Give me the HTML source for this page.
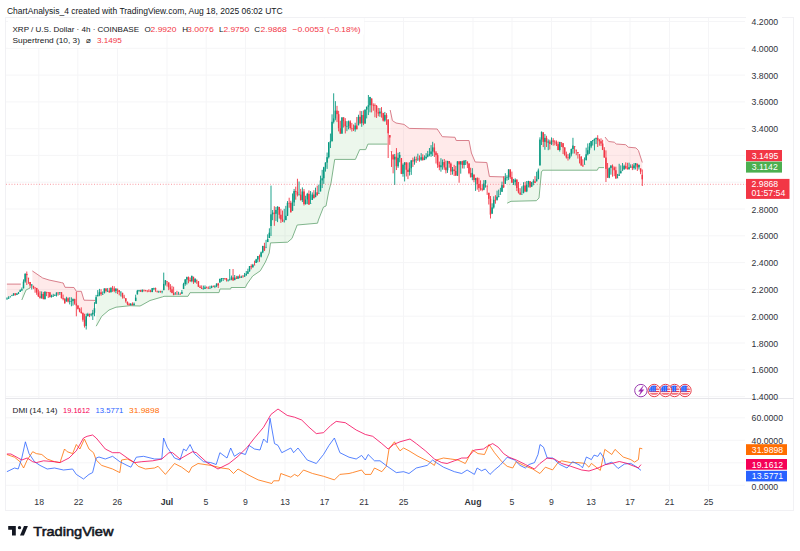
<!DOCTYPE html>
<html><head><meta charset="utf-8"><style>
html,body{margin:0;padding:0;background:#fff;width:800px;height:551px;overflow:hidden}
svg{display:block;font-family:"Liberation Sans",sans-serif}
</style></head><body>
<svg width="800" height="551" viewBox="0 0 800 551">
<rect width="800" height="551" fill="#fff"/>
<line x1="38.8" y1="17.5" x2="38.8" y2="491" stroke="#f5f5f7" stroke-width="1"/><line x1="77.8" y1="17.5" x2="77.8" y2="491" stroke="#f5f5f7" stroke-width="1"/><line x1="117.5" y1="17.5" x2="117.5" y2="491" stroke="#f5f5f7" stroke-width="1"/><line x1="167" y1="17.5" x2="167" y2="491" stroke="#f5f5f7" stroke-width="1"/><line x1="206.2" y1="17.5" x2="206.2" y2="491" stroke="#f5f5f7" stroke-width="1"/><line x1="245.5" y1="17.5" x2="245.5" y2="491" stroke="#f5f5f7" stroke-width="1"/><line x1="285" y1="17.5" x2="285" y2="491" stroke="#f5f5f7" stroke-width="1"/><line x1="324.5" y1="17.5" x2="324.5" y2="491" stroke="#f5f5f7" stroke-width="1"/><line x1="364" y1="17.5" x2="364" y2="491" stroke="#f5f5f7" stroke-width="1"/><line x1="403.5" y1="17.5" x2="403.5" y2="491" stroke="#f5f5f7" stroke-width="1"/><line x1="473" y1="17.5" x2="473" y2="491" stroke="#f5f5f7" stroke-width="1"/><line x1="512" y1="17.5" x2="512" y2="491" stroke="#f5f5f7" stroke-width="1"/><line x1="551.5" y1="17.5" x2="551.5" y2="491" stroke="#f5f5f7" stroke-width="1"/><line x1="591" y1="17.5" x2="591" y2="491" stroke="#f5f5f7" stroke-width="1"/><line x1="630" y1="17.5" x2="630" y2="491" stroke="#f5f5f7" stroke-width="1"/><line x1="669.5" y1="17.5" x2="669.5" y2="491" stroke="#f5f5f7" stroke-width="1"/><line x1="708.5" y1="17.5" x2="708.5" y2="491" stroke="#f5f5f7" stroke-width="1"/><line x1="5.5" y1="21.5" x2="745" y2="21.5" stroke="#f5f5f7" stroke-width="1"/><line x1="5.5" y1="48.3" x2="745" y2="48.3" stroke="#f5f5f7" stroke-width="1"/><line x1="5.5" y1="75.1" x2="745" y2="75.1" stroke="#f5f5f7" stroke-width="1"/><line x1="5.5" y1="101.9" x2="745" y2="101.9" stroke="#f5f5f7" stroke-width="1"/><line x1="5.5" y1="128.7" x2="745" y2="128.7" stroke="#f5f5f7" stroke-width="1"/><line x1="5.5" y1="155.4" x2="745" y2="155.4" stroke="#f5f5f7" stroke-width="1"/><line x1="5.5" y1="182.2" x2="745" y2="182.2" stroke="#f5f5f7" stroke-width="1"/><line x1="5.5" y1="209.0" x2="745" y2="209.0" stroke="#f5f5f7" stroke-width="1"/><line x1="5.5" y1="235.8" x2="745" y2="235.8" stroke="#f5f5f7" stroke-width="1"/><line x1="5.5" y1="262.6" x2="745" y2="262.6" stroke="#f5f5f7" stroke-width="1"/><line x1="5.5" y1="289.4" x2="745" y2="289.4" stroke="#f5f5f7" stroke-width="1"/><line x1="5.5" y1="316.2" x2="745" y2="316.2" stroke="#f5f5f7" stroke-width="1"/><line x1="5.5" y1="343.0" x2="745" y2="343.0" stroke="#f5f5f7" stroke-width="1"/><line x1="5.5" y1="369.8" x2="745" y2="369.8" stroke="#f5f5f7" stroke-width="1"/><line x1="5.5" y1="396.6" x2="745" y2="396.6" stroke="#f5f5f7" stroke-width="1"/><line x1="5.5" y1="417.8" x2="745" y2="417.8" stroke="#f5f5f7" stroke-width="1"/><line x1="5.5" y1="440.3" x2="745" y2="440.3" stroke="#f5f5f7" stroke-width="1"/><line x1="5.5" y1="462.8" x2="745" y2="462.8" stroke="#f5f5f7" stroke-width="1"/><line x1="5.5" y1="485.3" x2="745" y2="485.3" stroke="#f5f5f7" stroke-width="1"/>
<rect x="5.5" y="17.5" width="788" height="493" fill="none" stroke="#f1f1f4" stroke-width="1"/><line x1="5.5" y1="398.5" x2="793.5" y2="398.5" stroke="#e6e6ea" stroke-width="1"/>
<g><polygon points="6.9,284.1 8.0,284.1 9.1,284.1 10.1,284.1 11.2,284.1 12.3,284.1 13.4,284.1 14.4,284.1 15.5,284.1 16.6,284.1 17.7,284.1 18.7,284.1 19.8,284.1 20.9,284.1 20.9,291.1 19.8,291.1 18.7,293.1 17.7,294.2 16.6,294.2 15.5,294.1 14.4,294.1 13.4,294.4 12.3,295.7 11.2,295.7 10.1,296.8 9.1,298.2 8.0,298.2 6.9,298.8" fill="rgba(255,82,82,0.12)"/><polygon points="21.8,300.0 22.8,297.6 23.9,295.1 24.9,292.7 25.9,290.2 26.9,289.5 27.9,289.0 29.0,288.5 30.0,288.0 30.0,283.7 29.0,278.0 27.9,278.0 26.9,274.5 25.9,277.7 24.9,277.7 23.9,285.0 22.8,285.0 21.8,289.8" fill="rgba(76,175,80,0.105)"/><polygon points="32.3,270.9 33.3,271.6 34.3,272.3 35.3,272.9 36.3,273.6 37.3,274.3 38.3,275.0 39.3,275.7 40.3,276.4 41.3,277.0 42.3,277.7 43.3,278.2 44.3,278.5 45.3,278.8 46.3,279.1 47.3,279.5 48.3,279.8 49.3,280.1 50.3,280.3 51.3,280.5 52.3,280.7 53.3,280.9 54.3,281.1 55.3,281.3 56.3,281.6 57.3,281.8 58.3,282.0 59.3,282.2 60.3,282.4 61.3,282.6 62.3,282.8 63.3,283.2 64.3,285.6 65.3,287.3 66.3,287.3 67.3,287.4 68.3,287.4 69.3,287.4 70.3,287.4 71.3,287.4 72.3,287.5 73.3,287.5 74.3,288.0 75.3,289.6 76.3,291.3 77.3,291.3 78.3,291.3 79.3,291.3 80.3,291.3 81.3,291.3 82.3,294.6 83.3,297.9 84.3,300.2 85.3,300.2 86.3,300.2 87.3,300.3 88.3,300.3 89.3,300.3 90.3,300.3 91.3,300.3 92.3,300.3 93.3,300.4 94.3,300.4 95.3,300.4 95.3,300.5 94.3,310.5 93.3,313.6 92.3,313.6 91.3,314.8 90.3,314.6 89.3,314.6 88.3,315.1 87.3,315.1 86.3,321.1 85.3,322.9 84.3,322.9 83.3,316.5 82.3,316.5 81.3,312.3 80.3,310.2 79.3,310.2 78.3,307.2 77.3,307.2 76.3,304.5 75.3,301.3 74.3,301.3 73.3,300.1 72.3,300.1 71.3,301.2 70.3,301.4 69.3,301.4 68.3,299.9 67.3,299.9 66.3,299.9 65.3,301.2 64.3,301.2 63.3,298.7 62.3,298.7 61.3,295.2 60.3,292.5 59.3,292.5 58.3,292.6 57.3,293.9 56.3,293.9 55.3,295.6 54.3,295.6 53.3,295.8 52.3,296.4 51.3,296.4 50.3,294.6 49.3,294.6 48.3,292.2 47.3,292.0 46.3,292.0 45.3,295.3 44.3,295.3 43.3,296.5 42.3,295.9 41.3,295.9 40.3,297.1 39.3,297.1 38.3,294.4 37.3,290.2 36.3,290.2 35.3,287.6 34.3,287.6 33.3,286.7 32.3,285.0" fill="rgba(255,82,82,0.12)"/><polygon points="96.2,326.2 97.2,324.4 98.2,322.6 99.2,320.8 100.2,319.0 101.2,317.2 102.2,315.9 103.2,315.0 104.2,314.1 105.2,313.3 106.2,312.4 107.2,311.5 108.2,310.7 109.2,309.9 110.2,309.5 111.2,309.1 112.2,308.7 113.2,308.3 114.2,307.9 115.2,307.5 116.2,307.2 117.2,307.1 118.2,307.0 119.2,306.9 120.2,306.7 121.2,306.6 122.2,306.5 123.2,306.4 124.2,306.3 125.2,306.2 126.2,306.1 127.2,306.0 128.2,305.9 129.2,305.8 130.2,305.7 131.2,305.7 132.2,305.8 133.2,305.8 134.2,305.8 135.2,305.9 136.2,305.9 137.2,305.9 138.2,305.9 139.2,306.0 140.2,305.9 141.2,305.4 142.2,304.9 143.2,304.3 144.2,303.7 145.3,303.2 146.3,302.6 147.3,302.0 148.3,301.5 149.3,300.9 150.3,300.4 151.3,300.1 152.3,299.8 153.3,299.6 154.3,299.3 155.3,299.0 156.3,298.7 157.3,298.4 158.3,298.1 159.3,297.8 160.3,297.5 161.3,297.2 162.3,296.9 163.3,296.6 164.3,296.3 165.3,296.3 166.3,296.3 167.3,296.3 168.3,296.3 169.3,296.3 170.3,296.3 171.3,296.3 172.3,296.3 173.3,296.3 174.3,296.3 175.3,296.3 176.3,296.3 177.3,296.3 178.3,296.3 179.3,296.3 180.3,296.3 181.3,296.3 182.3,296.3 183.3,296.3 184.3,296.3 185.3,296.3 186.3,296.3 187.3,296.3 188.3,295.8 189.3,294.0 190.3,292.7 191.3,292.7 192.3,292.7 193.3,292.7 194.3,292.7 195.3,292.7 196.3,292.7 197.3,292.7 198.3,292.7 199.3,292.7 200.3,292.7 201.3,292.7 202.3,292.7 203.3,292.7 204.3,292.7 205.3,292.6 206.3,292.6 207.3,292.6 208.3,292.6 209.3,292.6 210.3,292.6 211.3,292.6 212.3,292.6 213.3,292.6 214.3,292.6 215.3,292.6 216.3,292.6 217.3,292.6 218.3,292.6 219.3,291.4 220.3,289.0 221.3,289.0 222.3,289.0 223.3,289.0 224.3,289.0 225.3,289.0 226.3,289.0 227.3,289.0 228.3,289.0 229.3,289.0 230.3,289.0 231.3,287.5 232.3,287.5 233.3,287.5 234.3,287.5 235.3,287.5 236.3,287.5 237.3,287.5 238.3,287.5 239.3,287.5 240.3,287.5 241.3,287.5 242.4,287.5 243.4,287.5 244.4,287.5 245.4,287.4 246.4,285.3 247.4,283.5 248.4,282.1 249.4,280.7 250.4,279.3 251.4,277.9 252.4,276.5 253.4,275.5 254.4,274.9 255.4,274.2 256.4,273.5 257.4,272.8 258.4,272.1 259.4,271.4 260.4,270.7 261.4,269.0 262.4,267.2 263.4,265.5 264.4,263.8 265.4,262.0 266.4,259.7 267.4,257.3 268.4,254.9 269.4,251.6 270.4,243.8 271.4,242.9 272.4,242.8 273.4,242.8 274.4,242.7 275.4,242.7 276.4,242.7 277.4,242.6 278.4,242.6 279.4,242.5 280.4,242.5 281.4,242.5 282.4,242.4 283.4,242.4 284.4,242.3 285.4,242.3 286.4,242.2 287.4,242.2 288.4,241.5 289.4,240.6 290.4,239.8 291.4,238.9 292.4,237.4 293.4,234.8 294.4,232.2 295.4,229.6 296.4,227.0 297.4,225.0 298.4,224.9 299.4,224.8 300.4,224.7 301.4,224.6 302.4,224.5 303.4,224.4 304.4,224.4 305.4,224.3 306.4,224.2 307.4,224.1 308.4,224.0 309.4,223.9 310.4,223.8 311.4,223.7 312.4,223.7 313.4,223.6 314.4,223.5 315.4,223.4 316.4,223.3 317.4,223.2 318.4,219.9 319.4,217.4 320.4,214.8 321.4,212.3 322.4,209.7 323.4,207.2 324.4,206.6 325.4,206.2 326.4,203.6 327.4,198.3 328.4,192.9 329.4,188.8 330.4,185.1 331.4,180.2 332.4,173.8 333.4,167.4 334.4,161.0 335.4,159.4 336.4,159.4 337.4,159.4 338.4,159.4 339.5,159.4 340.5,159.4 341.5,159.4 342.5,159.4 343.5,159.4 344.5,159.4 345.5,159.4 346.5,159.4 347.5,159.4 348.5,159.4 349.5,159.4 350.5,159.4 351.5,159.4 352.5,159.4 353.5,159.4 354.5,159.4 355.5,159.2 356.5,157.0 357.5,154.7 358.5,152.4 359.5,150.1 360.5,149.6 361.5,149.6 362.5,149.6 363.5,149.6 364.5,149.6 365.5,149.6 366.5,147.7 367.5,145.2 368.5,144.1 369.5,144.1 370.5,144.1 371.5,144.1 372.5,144.1 373.5,144.1 374.5,144.1 375.5,144.1 376.5,144.1 377.5,144.1 378.5,144.1 379.5,144.1 380.5,144.1 381.5,144.1 382.5,144.1 383.5,144.1 384.5,144.1 385.5,144.1 386.5,144.1 387.5,144.1 387.5,126.4 386.5,116.6 385.5,117.8 384.5,117.8 383.5,116.7 382.5,116.7 381.5,112.1 380.5,112.6 379.5,112.6 378.5,112.9 377.5,112.9 376.5,109.1 375.5,105.6 374.5,105.6 373.5,105.1 372.5,105.1 371.5,101.8 370.5,101.1 369.5,101.1 368.5,106.0 367.5,108.2 366.5,108.2 365.5,116.5 364.5,116.5 363.5,119.2 362.5,119.1 361.5,119.1 360.5,120.0 359.5,120.0 358.5,121.1 357.5,127.4 356.5,127.4 355.5,127.4 354.5,127.4 353.5,128.9 352.5,128.2 351.5,128.2 350.5,124.7 349.5,124.7 348.5,123.7 347.5,126.1 346.5,126.1 345.5,123.7 344.5,123.7 343.5,119.3 342.5,125.5 341.5,125.5 340.5,130.9 339.5,121.2 338.4,121.2 337.4,112.4 336.4,112.4 335.4,114.5 334.4,120.1 333.4,120.1 332.4,131.5 331.4,131.5 330.4,141.8 329.4,149.8 328.4,149.8 327.4,159.9 326.4,159.9 325.4,164.9 324.4,172.7 323.4,172.7 322.4,179.3 321.4,179.3 320.4,185.9 319.4,193.3 318.4,193.3 317.4,193.8 316.4,193.8 315.4,194.8 314.4,196.3 313.4,196.3 312.4,197.2 311.4,203.5 310.4,203.5 309.4,199.2 308.4,199.2 307.4,196.7 306.4,201.8 305.4,201.8 304.4,197.8 303.4,197.8 302.4,195.8 301.4,197.4 300.4,197.4 299.4,194.7 298.4,194.7 297.4,193.3 296.4,191.5 295.4,191.5 294.4,196.7 293.4,196.7 292.4,206.6 291.4,207.6 290.4,207.6 289.4,202.9 288.4,202.9 287.4,209.3 286.4,217.9 285.4,217.9 284.4,220.9 283.4,220.9 282.4,220.2 281.4,217.1 280.4,217.1 279.4,210.8 278.4,208.3 277.4,208.3 276.4,211.9 275.4,211.9 274.4,213.2 273.4,213.5 272.4,213.5 271.4,220.1 270.4,220.1 269.4,235.3 268.4,240.5 267.4,240.5 266.4,247.6 265.4,247.6 264.4,248.1 263.4,249.2 262.4,249.2 261.4,254.5 260.4,254.5 259.4,256.3 258.4,257.8 257.4,257.8 256.4,261.2 255.4,261.2 254.4,264.8 253.4,266.0 252.4,266.0 251.4,266.7 250.4,268.7 249.4,268.7 248.4,272.5 247.4,272.5 246.4,274.5 245.4,276.0 244.4,276.0 243.4,277.0 242.4,277.0 241.3,277.2 240.3,277.1 239.3,277.1 238.3,277.6 237.3,277.6 236.3,278.2 235.3,278.9 234.3,278.9 233.3,278.8 232.3,278.8 231.3,278.3 230.3,279.6 229.3,279.6 228.3,280.0 227.3,280.0 226.3,279.1 225.3,278.1 224.3,278.1 223.3,278.1 222.3,278.1 221.3,278.5 220.3,280.7 219.3,280.7 218.3,284.5 217.3,284.8 216.3,284.8 215.3,286.3 214.3,286.3 213.3,286.4 212.3,287.1 211.3,287.1 210.3,288.1 209.3,288.1 208.3,288.1 207.3,287.7 206.3,287.7 205.3,288.1 204.3,288.1 203.3,288.9 202.3,288.3 201.3,288.3 200.3,287.3 199.3,287.3 198.3,284.0 197.3,280.1 196.3,280.1 195.3,280.3 194.3,280.3 193.3,279.4 192.3,278.4 191.3,278.4 190.3,280.6 189.3,278.6 188.3,278.6 187.3,278.3 186.3,278.3 185.3,281.8 184.3,286.5 183.3,286.5 182.3,292.9 181.3,292.9 180.3,294.1 179.3,294.1 178.3,294.1 177.3,294.1 176.3,294.1 175.3,294.1 174.3,293.9 173.3,293.9 172.3,291.1 171.3,291.1 170.3,288.4 169.3,284.9 168.3,284.9 167.3,281.3 166.3,281.3 165.3,282.0 164.3,287.0 163.3,287.0 162.3,290.9 161.3,290.9 160.3,290.9 159.3,290.9 158.3,290.9 157.3,290.8 156.3,288.7 155.3,288.7 154.3,288.0 153.3,288.0 152.3,290.1 151.3,291.6 150.3,291.6 149.3,291.0 148.3,291.0 147.3,290.7 146.3,290.3 145.3,290.3 144.2,289.8 143.2,289.8 142.2,290.6 141.2,290.9 140.2,290.9 139.2,290.5 138.2,290.5 137.2,292.6 136.2,299.4 135.2,299.4 134.2,304.5 133.2,304.5 132.2,304.5 131.2,304.5 130.2,304.5 129.2,304.7 128.2,303.0 127.2,303.0 126.2,299.7 125.2,299.7 124.2,297.1 123.2,294.8 122.2,294.8 121.2,291.8 120.2,291.8 119.2,291.1 118.2,288.8 117.2,288.8 116.2,289.8 115.2,289.8 114.2,289.8 113.2,288.3 112.2,288.3 111.2,290.1 110.2,290.1 109.2,291.6 108.2,290.9 107.2,290.9 106.2,289.7 105.2,289.7 104.2,290.9 103.2,294.0 102.2,294.0 101.2,293.2 100.2,293.6 99.2,293.6 98.2,295.6 97.2,295.6 96.2,300.5" fill="rgba(76,175,80,0.105)"/><polygon points="390.2,110.0 391.2,114.9 392.2,119.7 393.2,121.1 394.2,121.8 395.2,122.5 396.2,123.0 397.2,123.2 398.3,123.4 399.3,123.6 400.3,123.7 401.3,123.9 402.3,124.1 403.3,124.3 404.3,124.6 405.3,125.4 406.3,126.2 407.3,127.0 408.3,127.7 409.3,128.4 410.3,128.4 411.3,128.4 412.4,128.5 413.4,128.5 414.4,128.5 415.4,128.5 416.4,128.6 417.4,128.6 418.4,128.6 419.4,128.6 420.4,128.6 421.4,128.7 422.4,128.7 423.4,128.7 424.4,128.7 425.4,128.7 426.5,128.8 427.5,128.8 428.5,128.8 429.5,128.8 430.5,128.9 431.5,128.9 432.5,128.9 433.5,128.9 434.5,128.9 435.5,129.0 436.5,129.0 437.5,129.5 438.5,131.0 439.5,132.5 440.5,134.1 441.6,135.6 442.6,136.7 443.6,136.8 444.6,136.8 445.6,136.9 446.6,136.9 447.6,137.0 448.6,137.0 449.6,137.0 450.6,137.1 451.6,137.1 452.6,137.2 453.6,137.2 454.6,137.3 455.7,139.0 456.7,140.5 457.7,140.5 458.7,140.5 459.7,140.5 460.7,140.5 461.7,140.5 462.7,140.5 463.7,140.5 464.7,140.5 465.7,140.5 466.7,140.5 467.7,140.5 468.7,140.5 469.7,144.4 470.8,149.6 471.8,153.9 472.8,156.2 473.8,158.6 474.8,161.0 475.8,162.0 476.8,162.1 477.8,162.1 478.8,162.2 479.8,162.2 480.8,162.2 481.8,162.3 482.8,162.3 483.8,162.4 484.9,162.4 485.9,162.5 486.9,162.9 487.9,168.3 488.9,173.7 489.9,176.5 490.9,176.5 491.9,176.6 492.9,176.6 493.9,176.6 494.9,176.7 495.9,176.7 496.9,176.7 497.9,176.8 499.0,176.8 500.0,176.8 501.0,176.8 502.0,176.9 503.0,176.9 504.0,176.9 505.0,177.0 506.0,177.0 506.0,180.9 505.0,180.9 504.0,186.2 503.0,186.2 502.0,188.5 501.0,194.3 500.0,194.3 499.0,196.3 497.9,196.3 496.9,198.3 495.9,199.8 494.9,199.8 493.9,203.6 492.9,210.6 491.9,210.6 490.9,206.7 489.9,206.7 488.9,195.8 487.9,186.0 486.9,186.0 485.9,181.9 484.9,181.9 483.8,186.6 482.8,189.2 481.8,189.2 480.8,188.3 479.8,188.3 478.8,186.0 477.8,181.1 476.8,181.1 475.8,179.0 474.8,179.0 473.8,177.2 472.8,175.0 471.8,175.0 470.8,175.1 469.7,168.4 468.7,168.4 467.7,162.6 466.7,162.6 465.7,160.5 464.7,162.8 463.7,162.8 462.7,163.2 461.7,163.2 460.7,162.9 459.7,162.9 458.7,162.9 457.7,168.5 456.7,168.5 455.7,173.3 454.6,170.3 453.6,170.3 452.6,170.5 451.6,167.6 450.6,167.6 449.6,162.4 448.6,162.4 447.6,165.6 446.6,168.8 445.6,168.8 444.6,164.8 443.6,164.8 442.6,163.7 441.6,166.3 440.5,166.3 439.5,166.1 438.5,166.1 437.5,160.1 436.5,153.8 435.5,153.8 434.5,150.0 433.5,149.5 432.5,149.5 431.5,152.8 430.5,152.8 429.5,154.4 428.5,155.6 427.5,155.6 426.5,157.5 425.4,157.5 424.4,159.1 423.4,158.6 422.4,158.6 421.4,158.5 420.4,158.5 419.4,159.2 418.4,159.0 417.4,159.0 416.4,159.2 415.4,160.3 414.4,160.3 413.4,160.9 412.4,160.9 411.3,164.3 410.3,170.1 409.3,170.1 408.3,170.9 407.3,170.9 406.3,166.1 405.3,163.6 404.3,163.6 403.3,169.3 402.3,169.3 401.3,166.0 400.3,156.4 399.3,156.4 398.3,162.0 397.2,162.0 396.2,161.5 395.2,158.1 394.2,158.1 393.2,157.0 392.2,151.8 391.2,151.8 390.2,136.3" fill="rgba(255,82,82,0.12)"/><polygon points="507.2,203.2 508.2,202.7 509.2,202.2 510.2,201.7 511.2,201.3 512.2,201.3 513.2,201.2 514.3,201.2 515.3,201.2 516.3,201.2 517.3,201.2 518.3,201.1 519.3,201.1 520.3,201.1 521.3,201.1 522.3,201.0 523.3,201.0 524.3,201.0 525.4,201.0 526.4,200.9 527.4,200.9 528.4,200.9 529.4,200.9 530.4,200.8 531.4,200.8 532.4,200.8 533.4,200.8 534.4,200.7 535.4,200.7 536.4,200.7 537.5,199.6 538.5,198.6 539.5,192.9 540.5,182.0 541.5,171.9 542.5,170.5 543.5,170.2 544.5,170.2 545.5,170.2 546.5,170.2 547.5,170.2 548.5,170.2 549.5,170.2 550.6,170.2 551.6,170.2 552.6,170.2 553.6,170.2 554.6,170.2 555.6,170.2 556.6,170.2 557.6,170.2 558.6,170.2 559.6,170.2 560.6,170.2 561.6,170.2 562.7,170.2 563.7,170.2 564.7,170.2 565.7,170.2 566.7,170.2 567.7,170.2 568.7,170.2 569.7,170.2 570.7,170.2 571.7,170.2 572.7,170.2 573.8,170.2 574.8,170.2 575.8,170.2 576.8,170.2 577.8,170.2 578.8,170.2 579.8,170.2 580.8,170.2 581.8,170.2 582.8,170.2 583.8,170.2 584.8,170.2 585.9,170.2 586.9,170.2 587.9,170.2 588.9,170.2 589.9,170.2 590.9,170.2 591.9,170.2 592.9,170.2 593.9,170.2 594.9,170.2 595.9,170.2 596.9,170.2 598.0,168.9 599.0,167.6 600.0,167.6 601.0,167.6 602.0,167.6 603.0,167.6 604.0,167.6 604.0,153.7 603.0,146.7 602.0,146.7 601.0,142.4 600.0,140.6 599.0,140.6 598.0,139.0 596.9,139.0 595.9,138.4 594.9,139.5 593.9,139.5 592.9,140.6 591.9,143.8 590.9,143.8 589.9,148.4 588.9,148.4 587.9,152.2 586.9,157.3 585.9,157.3 584.8,164.1 583.8,164.1 582.8,166.0 581.8,160.9 580.8,160.9 579.8,154.8 578.8,154.8 577.8,152.5 576.8,149.8 575.8,149.8 574.8,146.7 573.8,147.3 572.7,147.3 571.7,151.7 570.7,151.7 569.7,156.2 568.7,157.7 567.7,157.7 566.7,156.2 565.7,156.2 564.7,151.1 563.7,145.3 562.7,145.3 561.6,142.5 560.6,142.5 559.6,146.0 558.6,147.1 557.6,147.1 556.6,143.2 555.6,141.9 554.6,141.9 553.6,141.0 552.6,141.0 551.6,142.2 550.6,142.7 549.5,142.7 548.5,142.0 547.5,142.0 546.5,140.2 545.5,139.9 544.5,139.9 543.5,137.1 542.5,137.1 541.5,135.7 540.5,152.5 539.5,152.5 538.5,174.7 537.5,180.1 536.4,180.1 535.4,182.1 534.4,182.1 533.4,181.8 532.4,184.5 531.4,184.5 530.4,184.0 529.4,184.0 528.4,182.8 527.4,188.0 526.4,188.0 525.4,188.4 524.3,188.4 523.3,189.3 522.3,194.2 521.3,194.2 520.3,193.5 519.3,190.3 518.3,190.3 517.3,183.9 516.3,183.9 515.3,180.9 514.3,182.3 513.2,182.3 512.2,179.9 511.2,179.9 510.2,173.3 509.2,173.4 508.2,173.4 507.2,177.6" fill="rgba(76,175,80,0.105)"/><polygon points="605.0,137.0 606.0,138.3 607.0,139.5 608.0,140.8 609.0,141.6 610.0,141.7 611.0,141.8 612.1,141.9 613.1,142.0 614.1,142.2 615.1,142.9 616.1,143.9 617.1,144.1 618.1,144.1 619.1,144.2 620.1,144.3 621.1,144.4 622.1,144.4 623.1,144.5 624.2,144.6 625.2,144.7 626.2,145.2 627.2,146.1 628.2,147.1 629.2,147.3 630.2,147.4 631.2,147.5 632.2,147.6 633.2,147.7 634.2,147.7 635.2,147.8 636.3,148.3 637.3,149.3 638.3,150.3 639.3,153.1 640.3,156.2 641.3,159.4 642.3,162.5 642.3,177.1 641.3,170.1 640.3,170.1 639.3,166.1 638.3,166.1 637.3,165.5 636.3,164.3 635.2,164.3 634.2,166.7 633.2,166.7 632.2,167.3 631.2,166.9 630.2,166.9 629.2,168.2 628.2,168.7 627.2,168.7 626.2,167.0 625.2,167.0 624.2,167.8 623.1,170.6 622.1,170.6 621.1,172.3 620.1,172.3 619.1,175.1 618.1,177.9 617.1,177.9 616.1,174.4 615.1,174.4 614.1,168.8 613.1,166.6 612.1,166.6 611.0,166.9 610.0,172.9 609.0,172.9 608.0,173.3 607.0,173.3 606.0,163.2 605.0,153.7" fill="rgba(255,82,82,0.12)"/></g>
<g><polyline points="6.9,284.1 20.9,284.1" fill="none" stroke="#d9808c" stroke-width="1"/><polyline points="21.8,300.0 26.0,290.0 30.0,288.0" fill="none" stroke="#80b58c" stroke-width="1"/><polyline points="32.3,270.9 42.7,278.0 49.0,280.0 61.7,282.7 63.2,283.0 65.0,287.3 74.0,287.5 76.3,291.3 81.3,291.3 84.0,300.2 95.3,300.4" fill="none" stroke="#d9808c" stroke-width="1"/><polyline points="96.2,326.2 101.7,316.3 109.0,310.0 116.0,307.2 130.0,305.7 140.0,306.0 142.0,305.0 150.0,300.5 162.7,296.8 164.0,296.3 188.0,296.3 190.0,292.7 219.0,292.6 220.0,289.0 230.7,289.0 231.0,287.5 245.3,287.5 247.0,284.0 252.7,276.0 260.3,270.8 265.4,262.0 269.2,253.0 270.5,242.9 287.6,242.2 292.0,238.4 297.2,225.0 317.5,223.2 318.4,220.0 323.5,207.0 326.0,206.0 328.6,192.0 331.0,183.0 334.7,159.4 355.4,159.4 359.7,149.6 365.7,149.6 367.9,144.1 387.5,144.1" fill="none" stroke="#80b58c" stroke-width="1"/><polyline points="390.2,110.0 392.4,120.6 396.0,123.0 404.0,124.4 409.2,128.4 437.2,129.0 442.3,136.7 455.0,137.3 456.2,140.5 469.0,140.5 471.4,153.0 475.2,162.0 486.8,162.5 489.4,176.5 506.0,177.0" fill="none" stroke="#d9808c" stroke-width="1"/><polyline points="507.2,203.2 511.0,201.3 536.4,200.7 539.0,198.0 541.4,172.0 542.7,170.2 597.3,170.2 598.6,167.6 604.0,167.6" fill="none" stroke="#80b58c" stroke-width="1"/><polyline points="605.0,137.0 608.6,141.5 614.3,142.2 616.2,144.0 625.7,144.7 628.3,147.2 635.9,147.9 638.4,150.4 642.3,162.5" fill="none" stroke="#d9808c" stroke-width="1"/></g>
<g><rect x="6.55" y="297.35" width="0.9" height="2.32" fill="#089981"/><rect x="6.25" y="298.62" width="1.5" height="0.60" fill="#089981"/><rect x="8.20" y="296.22" width="0.9" height="2.59" fill="#089981"/><rect x="7.90" y="297.78" width="1.5" height="0.83" fill="#089981"/><rect x="9.85" y="295.98" width="0.9" height="0.89" fill="#089981"/><rect x="9.55" y="296.80" width="1.5" height="0.60" fill="#089981"/><rect x="11.50" y="294.80" width="0.9" height="1.13" fill="#089981"/><rect x="11.20" y="295.49" width="1.5" height="0.60" fill="#089981"/><rect x="13.15" y="293.35" width="0.9" height="2.29" fill="#089981"/><rect x="12.85" y="293.38" width="1.5" height="2.12" fill="#089981"/><rect x="14.80" y="293.24" width="0.9" height="2.43" fill="#F23645"/><rect x="14.50" y="293.38" width="1.5" height="1.46" fill="#F23645"/><rect x="16.45" y="293.09" width="0.9" height="1.98" fill="#089981"/><rect x="16.15" y="293.63" width="1.5" height="1.20" fill="#089981"/><rect x="18.10" y="291.95" width="0.9" height="2.15" fill="#089981"/><rect x="17.80" y="292.50" width="1.5" height="1.13" fill="#089981"/><rect x="19.75" y="289.40" width="0.9" height="2.53" fill="#089981"/><rect x="19.45" y="290.33" width="1.5" height="1.60" fill="#089981"/><rect x="21.40" y="287.53" width="0.9" height="3.53" fill="#089981"/><rect x="21.10" y="289.24" width="1.5" height="1.09" fill="#089981"/><rect x="23.05" y="279.36" width="0.9" height="8.97" fill="#089981"/><rect x="22.75" y="281.62" width="1.5" height="6.71" fill="#089981"/><rect x="24.70" y="273.24" width="0.9" height="9.53" fill="#089981"/><rect x="24.40" y="273.87" width="1.5" height="7.75" fill="#089981"/><rect x="26.35" y="271.50" width="0.9" height="13.50" fill="#F23645"/><rect x="26.05" y="273.87" width="1.5" height="1.30" fill="#F23645"/><rect x="28.00" y="277.80" width="0.9" height="6.01" fill="#F23645"/><rect x="27.70" y="277.80" width="1.5" height="0.60" fill="#F23645"/><rect x="29.65" y="281.98" width="0.9" height="6.07" fill="#F23645"/><rect x="29.35" y="281.98" width="1.5" height="3.50" fill="#F23645"/><rect x="31.30" y="284.33" width="0.9" height="5.20" fill="#089981"/><rect x="31.00" y="284.43" width="1.5" height="1.05" fill="#089981"/><rect x="32.95" y="285.82" width="0.9" height="3.34" fill="#F23645"/><rect x="32.65" y="285.82" width="1.5" height="1.75" fill="#F23645"/><rect x="34.60" y="287.16" width="0.9" height="5.55" fill="#F23645"/><rect x="34.30" y="287.57" width="1.5" height="0.60" fill="#F23645"/><rect x="36.25" y="287.94" width="0.9" height="6.86" fill="#F23645"/><rect x="35.95" y="287.94" width="1.5" height="4.61" fill="#F23645"/><rect x="37.90" y="289.49" width="0.9" height="7.48" fill="#F23645"/><rect x="37.60" y="292.55" width="1.5" height="3.79" fill="#F23645"/><rect x="39.55" y="291.20" width="0.9" height="7.50" fill="#F23645"/><rect x="39.25" y="296.34" width="1.5" height="1.48" fill="#F23645"/><rect x="41.20" y="291.40" width="0.9" height="7.34" fill="#089981"/><rect x="40.90" y="293.98" width="1.5" height="3.85" fill="#089981"/><rect x="42.85" y="291.97" width="0.9" height="7.41" fill="#F23645"/><rect x="42.55" y="293.98" width="1.5" height="5.05" fill="#F23645"/><rect x="44.50" y="291.55" width="0.9" height="8.03" fill="#089981"/><rect x="44.20" y="291.62" width="1.5" height="7.41" fill="#089981"/><rect x="46.15" y="291.89" width="0.9" height="4.28" fill="#F23645"/><rect x="45.85" y="291.89" width="1.5" height="0.60" fill="#F23645"/><rect x="47.80" y="292.09" width="0.9" height="5.81" fill="#F23645"/><rect x="47.50" y="292.09" width="1.5" height="0.60" fill="#F23645"/><rect x="49.45" y="292.25" width="0.9" height="5.30" fill="#F23645"/><rect x="49.15" y="292.28" width="1.5" height="4.67" fill="#F23645"/><rect x="51.10" y="294.69" width="0.9" height="2.93" fill="#089981"/><rect x="50.80" y="295.82" width="1.5" height="1.13" fill="#089981"/><rect x="52.75" y="293.79" width="0.9" height="3.03" fill="#089981"/><rect x="52.45" y="295.77" width="1.5" height="0.60" fill="#089981"/><rect x="54.40" y="294.40" width="0.9" height="1.57" fill="#089981"/><rect x="54.10" y="295.35" width="1.5" height="0.60" fill="#089981"/><rect x="56.05" y="292.45" width="0.9" height="4.06" fill="#089981"/><rect x="55.75" y="292.54" width="1.5" height="2.81" fill="#089981"/><rect x="57.70" y="292.39" width="0.9" height="3.16" fill="#F23645"/><rect x="57.40" y="292.54" width="1.5" height="0.60" fill="#F23645"/><rect x="59.35" y="292.08" width="0.9" height="2.80" fill="#089981"/><rect x="59.05" y="292.22" width="1.5" height="0.60" fill="#089981"/><rect x="61.00" y="292.08" width="0.9" height="6.35" fill="#F23645"/><rect x="60.70" y="292.22" width="1.5" height="6.01" fill="#F23645"/><rect x="62.65" y="294.58" width="0.9" height="5.76" fill="#F23645"/><rect x="62.35" y="298.23" width="1.5" height="0.86" fill="#F23645"/><rect x="64.30" y="298.13" width="0.9" height="5.35" fill="#F23645"/><rect x="64.00" y="299.09" width="1.5" height="4.27" fill="#F23645"/><rect x="65.95" y="296.76" width="0.9" height="4.74" fill="#089981"/><rect x="65.65" y="298.32" width="1.5" height="3.18" fill="#089981"/><rect x="67.60" y="297.41" width="0.9" height="4.98" fill="#F23645"/><rect x="67.30" y="298.32" width="1.5" height="3.20" fill="#F23645"/><rect x="69.25" y="297.26" width="0.9" height="7.15" fill="#089981"/><rect x="68.95" y="301.31" width="1.5" height="0.60" fill="#089981"/><rect x="70.90" y="297.32" width="0.9" height="8.98" fill="#089981"/><rect x="70.60" y="301.06" width="1.5" height="0.60" fill="#089981"/><rect x="72.55" y="298.50" width="0.9" height="7.14" fill="#089981"/><rect x="72.25" y="299.10" width="1.5" height="1.96" fill="#089981"/><rect x="74.20" y="298.71" width="0.9" height="6.00" fill="#F23645"/><rect x="73.90" y="299.10" width="1.5" height="4.46" fill="#F23645"/><rect x="75.85" y="291.80" width="0.9" height="24.50" fill="#F23645"/><rect x="75.55" y="303.56" width="1.5" height="1.96" fill="#F23645"/><rect x="77.50" y="305.28" width="0.9" height="4.20" fill="#F23645"/><rect x="77.20" y="305.52" width="1.5" height="3.37" fill="#F23645"/><rect x="79.15" y="307.84" width="0.9" height="4.47" fill="#F23645"/><rect x="78.85" y="308.89" width="1.5" height="2.59" fill="#F23645"/><rect x="80.80" y="307.32" width="0.9" height="6.33" fill="#F23645"/><rect x="80.50" y="311.48" width="1.5" height="1.63" fill="#F23645"/><rect x="82.45" y="312.44" width="0.9" height="9.25" fill="#F23645"/><rect x="82.15" y="313.11" width="1.5" height="6.70" fill="#F23645"/><rect x="84.10" y="313.78" width="0.9" height="13.77" fill="#F23645"/><rect x="83.80" y="319.81" width="1.5" height="6.11" fill="#F23645"/><rect x="85.75" y="313.60" width="0.9" height="15.90" fill="#089981"/><rect x="85.45" y="316.21" width="1.5" height="9.72" fill="#089981"/><rect x="87.40" y="312.81" width="0.9" height="3.48" fill="#089981"/><rect x="87.10" y="314.06" width="1.5" height="2.14" fill="#089981"/><rect x="89.05" y="313.54" width="0.9" height="3.55" fill="#F23645"/><rect x="88.75" y="314.06" width="1.5" height="1.14" fill="#F23645"/><rect x="90.70" y="313.20" width="0.9" height="3.10" fill="#089981"/><rect x="90.40" y="314.45" width="1.5" height="0.75" fill="#089981"/><rect x="92.35" y="309.88" width="0.9" height="10.10" fill="#089981"/><rect x="92.05" y="312.75" width="1.5" height="1.71" fill="#089981"/><rect x="94.00" y="302.15" width="0.9" height="14.08" fill="#089981"/><rect x="93.70" y="308.20" width="1.5" height="4.55" fill="#089981"/><rect x="95.65" y="294.91" width="0.9" height="8.82" fill="#089981"/><rect x="95.35" y="297.17" width="1.5" height="6.56" fill="#089981"/><rect x="97.30" y="290.11" width="0.9" height="6.18" fill="#089981"/><rect x="97.00" y="294.97" width="1.5" height="1.32" fill="#089981"/><rect x="98.95" y="288.88" width="0.9" height="7.28" fill="#089981"/><rect x="98.65" y="292.23" width="1.5" height="2.73" fill="#089981"/><rect x="100.60" y="289.14" width="0.9" height="6.67" fill="#F23645"/><rect x="100.30" y="292.23" width="1.5" height="1.87" fill="#F23645"/><rect x="102.25" y="291.47" width="0.9" height="3.24" fill="#089981"/><rect x="101.95" y="293.95" width="1.5" height="0.60" fill="#089981"/><rect x="103.90" y="288.32" width="0.9" height="4.95" fill="#089981"/><rect x="103.60" y="288.49" width="1.5" height="4.78" fill="#089981"/><rect x="105.55" y="288.25" width="0.9" height="4.04" fill="#F23645"/><rect x="105.25" y="288.49" width="1.5" height="2.47" fill="#F23645"/><rect x="107.20" y="288.07" width="0.9" height="3.94" fill="#089981"/><rect x="106.90" y="290.78" width="1.5" height="0.60" fill="#089981"/><rect x="108.85" y="287.86" width="0.9" height="4.65" fill="#F23645"/><rect x="108.55" y="290.78" width="1.5" height="1.66" fill="#F23645"/><rect x="110.50" y="287.26" width="0.9" height="5.04" fill="#089981"/><rect x="110.20" y="287.90" width="1.5" height="4.41" fill="#089981"/><rect x="112.15" y="285.91" width="0.9" height="5.94" fill="#F23645"/><rect x="111.85" y="287.90" width="1.5" height="0.72" fill="#F23645"/><rect x="113.80" y="286.29" width="0.9" height="5.89" fill="#F23645"/><rect x="113.50" y="288.62" width="1.5" height="2.37" fill="#F23645"/><rect x="115.45" y="288.22" width="0.9" height="4.97" fill="#089981"/><rect x="115.15" y="288.66" width="1.5" height="2.33" fill="#089981"/><rect x="117.10" y="288.77" width="0.9" height="5.24" fill="#F23645"/><rect x="116.80" y="288.77" width="1.5" height="0.60" fill="#F23645"/><rect x="118.75" y="290.14" width="0.9" height="5.18" fill="#F23645"/><rect x="118.45" y="290.14" width="1.5" height="1.89" fill="#F23645"/><rect x="120.40" y="291.54" width="0.9" height="4.93" fill="#089981"/><rect x="120.10" y="291.62" width="1.5" height="0.60" fill="#089981"/><rect x="122.05" y="292.80" width="0.9" height="5.76" fill="#F23645"/><rect x="121.75" y="292.80" width="1.5" height="4.09" fill="#F23645"/><rect x="123.70" y="294.78" width="0.9" height="3.78" fill="#F23645"/><rect x="123.40" y="296.89" width="1.5" height="0.60" fill="#F23645"/><rect x="125.35" y="298.20" width="0.9" height="4.50" fill="#F23645"/><rect x="125.05" y="298.20" width="1.5" height="3.06" fill="#F23645"/><rect x="127.00" y="301.70" width="0.9" height="3.49" fill="#F23645"/><rect x="126.70" y="301.70" width="1.5" height="2.54" fill="#F23645"/><rect x="128.65" y="302.79" width="0.9" height="2.48" fill="#F23645"/><rect x="128.35" y="304.24" width="1.5" height="0.97" fill="#F23645"/><rect x="130.30" y="303.01" width="0.9" height="2.22" fill="#089981"/><rect x="130.00" y="303.85" width="1.5" height="1.36" fill="#089981"/><rect x="131.95" y="302.35" width="0.9" height="2.94" fill="#F23645"/><rect x="131.65" y="303.85" width="1.5" height="1.36" fill="#F23645"/><rect x="133.60" y="302.45" width="0.9" height="2.84" fill="#089981"/><rect x="133.30" y="303.74" width="1.5" height="1.47" fill="#089981"/><rect x="135.25" y="294.64" width="0.9" height="6.42" fill="#089981"/><rect x="134.95" y="297.66" width="1.5" height="3.40" fill="#089981"/><rect x="136.90" y="289.89" width="0.9" height="4.50" fill="#089981"/><rect x="136.60" y="290.73" width="1.5" height="3.67" fill="#089981"/><rect x="138.55" y="289.81" width="0.9" height="1.95" fill="#089981"/><rect x="138.25" y="290.25" width="1.5" height="0.60" fill="#089981"/><rect x="140.20" y="289.74" width="0.9" height="2.15" fill="#F23645"/><rect x="139.90" y="290.25" width="1.5" height="1.40" fill="#F23645"/><rect x="141.85" y="289.61" width="0.9" height="2.59" fill="#089981"/><rect x="141.55" y="289.65" width="1.5" height="2.00" fill="#089981"/><rect x="143.50" y="289.80" width="0.9" height="1.86" fill="#F23645"/><rect x="143.20" y="289.80" width="1.5" height="0.60" fill="#F23645"/><rect x="145.15" y="289.94" width="0.9" height="1.55" fill="#F23645"/><rect x="144.85" y="289.94" width="1.5" height="0.69" fill="#F23645"/><rect x="146.80" y="290.31" width="0.9" height="1.95" fill="#F23645"/><rect x="146.50" y="290.63" width="1.5" height="0.60" fill="#F23645"/><rect x="148.45" y="289.24" width="0.9" height="2.82" fill="#F23645"/><rect x="148.15" y="290.68" width="1.5" height="0.60" fill="#F23645"/><rect x="150.10" y="289.71" width="0.9" height="2.51" fill="#F23645"/><rect x="149.80" y="291.24" width="1.5" height="0.79" fill="#F23645"/><rect x="151.75" y="288.05" width="0.9" height="4.10" fill="#089981"/><rect x="151.45" y="288.11" width="1.5" height="3.93" fill="#089981"/><rect x="153.40" y="287.73" width="0.9" height="2.42" fill="#089981"/><rect x="153.10" y="287.99" width="1.5" height="0.60" fill="#089981"/><rect x="155.05" y="287.58" width="0.9" height="4.19" fill="#F23645"/><rect x="154.75" y="287.99" width="1.5" height="1.46" fill="#F23645"/><rect x="156.70" y="290.80" width="0.9" height="1.76" fill="#F23645"/><rect x="156.40" y="290.80" width="1.5" height="0.60" fill="#F23645"/><rect x="158.35" y="290.82" width="0.9" height="2.18" fill="#089981"/><rect x="158.05" y="290.87" width="1.5" height="0.60" fill="#089981"/><rect x="160.00" y="290.82" width="0.9" height="1.91" fill="#F23645"/><rect x="159.70" y="290.87" width="1.5" height="0.60" fill="#F23645"/><rect x="161.65" y="290.81" width="0.9" height="2.49" fill="#089981"/><rect x="161.35" y="290.87" width="1.5" height="0.60" fill="#089981"/><rect x="163.30" y="272.60" width="0.9" height="17.56" fill="#089981"/><rect x="163.00" y="283.87" width="1.5" height="6.29" fill="#089981"/><rect x="164.95" y="280.02" width="0.9" height="5.49" fill="#089981"/><rect x="164.65" y="280.20" width="1.5" height="3.67" fill="#089981"/><rect x="166.60" y="281.21" width="0.9" height="5.34" fill="#F23645"/><rect x="166.30" y="281.21" width="1.5" height="0.60" fill="#F23645"/><rect x="168.25" y="282.41" width="0.9" height="7.79" fill="#F23645"/><rect x="167.95" y="282.41" width="1.5" height="4.97" fill="#F23645"/><rect x="169.90" y="284.12" width="0.9" height="8.10" fill="#F23645"/><rect x="169.60" y="287.39" width="1.5" height="1.96" fill="#F23645"/><rect x="171.55" y="285.79" width="0.9" height="7.49" fill="#F23645"/><rect x="171.25" y="289.35" width="1.5" height="3.53" fill="#F23645"/><rect x="173.20" y="286.73" width="0.9" height="8.51" fill="#F23645"/><rect x="172.90" y="292.87" width="1.5" height="2.15" fill="#F23645"/><rect x="174.85" y="292.00" width="0.9" height="2.40" fill="#089981"/><rect x="174.55" y="293.83" width="1.5" height="0.60" fill="#089981"/><rect x="176.50" y="290.82" width="0.9" height="3.57" fill="#F23645"/><rect x="176.20" y="293.83" width="1.5" height="0.60" fill="#F23645"/><rect x="178.15" y="291.78" width="0.9" height="2.58" fill="#089981"/><rect x="177.85" y="293.96" width="1.5" height="0.60" fill="#089981"/><rect x="179.80" y="292.55" width="0.9" height="1.81" fill="#F23645"/><rect x="179.50" y="293.96" width="1.5" height="0.60" fill="#F23645"/><rect x="181.45" y="289.99" width="0.9" height="3.74" fill="#089981"/><rect x="181.15" y="292.13" width="1.5" height="1.60" fill="#089981"/><rect x="183.10" y="282.77" width="0.9" height="6.17" fill="#089981"/><rect x="182.80" y="284.05" width="1.5" height="4.89" fill="#089981"/><rect x="184.75" y="279.05" width="0.9" height="6.72" fill="#089981"/><rect x="184.45" y="279.48" width="1.5" height="4.57" fill="#089981"/><rect x="186.40" y="276.66" width="0.9" height="7.88" fill="#089981"/><rect x="186.10" y="277.15" width="1.5" height="2.33" fill="#089981"/><rect x="188.05" y="276.49" width="0.9" height="6.78" fill="#F23645"/><rect x="187.75" y="277.15" width="1.5" height="2.95" fill="#F23645"/><rect x="189.70" y="277.50" width="0.9" height="4.49" fill="#F23645"/><rect x="189.40" y="280.10" width="1.5" height="0.92" fill="#F23645"/><rect x="191.35" y="275.69" width="0.9" height="6.57" fill="#089981"/><rect x="191.05" y="275.86" width="1.5" height="5.16" fill="#089981"/><rect x="193.00" y="276.77" width="0.9" height="7.11" fill="#F23645"/><rect x="192.70" y="276.77" width="1.5" height="5.20" fill="#F23645"/><rect x="194.65" y="278.49" width="0.9" height="4.43" fill="#089981"/><rect x="194.35" y="278.62" width="1.5" height="3.36" fill="#089981"/><rect x="196.30" y="279.77" width="0.9" height="4.02" fill="#F23645"/><rect x="196.00" y="279.77" width="1.5" height="0.60" fill="#F23645"/><rect x="197.95" y="281.19" width="0.9" height="5.68" fill="#F23645"/><rect x="197.65" y="281.19" width="1.5" height="5.56" fill="#F23645"/><rect x="199.60" y="285.31" width="0.9" height="2.63" fill="#F23645"/><rect x="199.30" y="286.75" width="1.5" height="1.06" fill="#F23645"/><rect x="201.25" y="285.35" width="0.9" height="3.60" fill="#F23645"/><rect x="200.95" y="287.81" width="1.5" height="1.06" fill="#F23645"/><rect x="202.90" y="285.58" width="0.9" height="3.41" fill="#089981"/><rect x="202.60" y="288.86" width="1.5" height="0.60" fill="#089981"/><rect x="204.55" y="285.42" width="0.9" height="3.51" fill="#089981"/><rect x="204.25" y="287.41" width="1.5" height="1.45" fill="#089981"/><rect x="206.20" y="286.45" width="0.9" height="1.93" fill="#F23645"/><rect x="205.90" y="287.41" width="1.5" height="0.60" fill="#F23645"/><rect x="207.85" y="286.41" width="0.9" height="2.27" fill="#F23645"/><rect x="207.55" y="287.94" width="1.5" height="0.60" fill="#F23645"/><rect x="209.50" y="285.76" width="0.9" height="2.92" fill="#089981"/><rect x="209.20" y="287.89" width="1.5" height="0.60" fill="#089981"/><rect x="211.15" y="285.51" width="0.9" height="2.70" fill="#089981"/><rect x="210.85" y="286.28" width="1.5" height="1.61" fill="#089981"/><rect x="212.80" y="285.37" width="0.9" height="1.80" fill="#F23645"/><rect x="212.50" y="286.28" width="1.5" height="0.60" fill="#F23645"/><rect x="214.45" y="285.14" width="0.9" height="2.99" fill="#089981"/><rect x="214.15" y="286.11" width="1.5" height="0.60" fill="#089981"/><rect x="216.10" y="283.44" width="0.9" height="3.73" fill="#089981"/><rect x="215.80" y="283.57" width="1.5" height="2.53" fill="#089981"/><rect x="217.75" y="282.85" width="0.9" height="5.16" fill="#F23645"/><rect x="217.45" y="283.57" width="1.5" height="1.83" fill="#F23645"/><rect x="219.40" y="278.60" width="0.9" height="3.92" fill="#089981"/><rect x="219.10" y="278.95" width="1.5" height="3.58" fill="#089981"/><rect x="221.05" y="278.04" width="0.9" height="3.60" fill="#089981"/><rect x="220.75" y="278.10" width="1.5" height="0.85" fill="#089981"/><rect x="222.70" y="278.02" width="0.9" height="3.01" fill="#089981"/><rect x="222.40" y="278.10" width="1.5" height="0.60" fill="#089981"/><rect x="224.35" y="278.07" width="0.9" height="1.54" fill="#F23645"/><rect x="224.05" y="278.10" width="1.5" height="0.60" fill="#F23645"/><rect x="226.00" y="278.12" width="0.9" height="3.38" fill="#F23645"/><rect x="225.70" y="278.18" width="1.5" height="1.85" fill="#F23645"/><rect x="227.65" y="279.23" width="0.9" height="2.34" fill="#089981"/><rect x="227.35" y="279.88" width="1.5" height="0.60" fill="#089981"/><rect x="229.30" y="269.00" width="0.9" height="11.65" fill="#089981"/><rect x="229.00" y="279.24" width="1.5" height="0.64" fill="#089981"/><rect x="230.95" y="275.55" width="0.9" height="4.66" fill="#089981"/><rect x="230.65" y="277.45" width="1.5" height="1.80" fill="#089981"/><rect x="232.60" y="269.00" width="0.9" height="12.00" fill="#F23645"/><rect x="232.30" y="277.45" width="1.5" height="2.75" fill="#F23645"/><rect x="234.25" y="275.00" width="0.9" height="5.12" fill="#089981"/><rect x="233.95" y="277.64" width="1.5" height="2.49" fill="#089981"/><rect x="235.90" y="275.86" width="0.9" height="3.12" fill="#F23645"/><rect x="235.60" y="277.64" width="1.5" height="1.22" fill="#F23645"/><rect x="237.55" y="275.71" width="0.9" height="3.06" fill="#089981"/><rect x="237.25" y="276.43" width="1.5" height="2.33" fill="#089981"/><rect x="239.20" y="274.46" width="0.9" height="3.82" fill="#F23645"/><rect x="238.90" y="276.43" width="1.5" height="1.31" fill="#F23645"/><rect x="240.85" y="275.62" width="0.9" height="2.25" fill="#089981"/><rect x="240.55" y="276.69" width="1.5" height="1.04" fill="#089981"/><rect x="242.50" y="274.98" width="0.9" height="2.32" fill="#F23645"/><rect x="242.20" y="276.69" width="1.5" height="0.60" fill="#F23645"/><rect x="244.15" y="272.95" width="0.9" height="3.76" fill="#089981"/><rect x="243.85" y="275.23" width="1.5" height="1.47" fill="#089981"/><rect x="245.80" y="271.03" width="0.9" height="4.78" fill="#089981"/><rect x="245.50" y="273.70" width="1.5" height="1.53" fill="#089981"/><rect x="247.45" y="268.66" width="0.9" height="5.40" fill="#089981"/><rect x="247.15" y="271.33" width="1.5" height="2.37" fill="#089981"/><rect x="249.10" y="266.06" width="0.9" height="5.64" fill="#089981"/><rect x="248.80" y="266.15" width="1.5" height="5.18" fill="#089981"/><rect x="250.75" y="264.29" width="0.9" height="5.01" fill="#F23645"/><rect x="250.45" y="266.15" width="1.5" height="1.03" fill="#F23645"/><rect x="252.40" y="263.86" width="0.9" height="3.86" fill="#089981"/><rect x="252.10" y="264.77" width="1.5" height="2.41" fill="#089981"/><rect x="254.05" y="260.63" width="0.9" height="4.58" fill="#F23645"/><rect x="253.75" y="264.77" width="1.5" height="0.60" fill="#F23645"/><rect x="255.70" y="258.79" width="0.9" height="4.17" fill="#089981"/><rect x="255.40" y="259.43" width="1.5" height="3.54" fill="#089981"/><rect x="257.35" y="255.93" width="0.9" height="6.32" fill="#089981"/><rect x="257.05" y="256.07" width="1.5" height="3.36" fill="#089981"/><rect x="259.00" y="254.54" width="0.9" height="7.30" fill="#F23645"/><rect x="258.70" y="256.07" width="1.5" height="0.60" fill="#F23645"/><rect x="260.65" y="251.54" width="0.9" height="5.85" fill="#089981"/><rect x="260.35" y="252.36" width="1.5" height="4.21" fill="#089981"/><rect x="262.30" y="245.86" width="0.9" height="7.35" fill="#089981"/><rect x="262.00" y="245.94" width="1.5" height="6.42" fill="#089981"/><rect x="263.95" y="242.75" width="0.9" height="8.27" fill="#F23645"/><rect x="263.65" y="245.94" width="1.5" height="4.31" fill="#F23645"/><rect x="265.60" y="239.85" width="0.9" height="7.90" fill="#089981"/><rect x="265.30" y="247.49" width="1.5" height="0.60" fill="#089981"/><rect x="267.25" y="234.35" width="0.9" height="7.69" fill="#089981"/><rect x="266.95" y="239.00" width="1.5" height="3.04" fill="#089981"/><rect x="268.90" y="228.30" width="0.9" height="9.63" fill="#089981"/><rect x="268.60" y="232.67" width="1.5" height="5.26" fill="#089981"/><rect x="270.55" y="185.60" width="0.9" height="50.40" fill="#089981"/><rect x="270.25" y="214.29" width="1.5" height="11.71" fill="#089981"/><rect x="272.20" y="210.04" width="0.9" height="10.15" fill="#089981"/><rect x="271.90" y="212.63" width="1.5" height="1.67" fill="#089981"/><rect x="273.85" y="206.22" width="0.9" height="19.60" fill="#F23645"/><rect x="273.55" y="212.63" width="1.5" height="1.18" fill="#F23645"/><rect x="275.50" y="206.90" width="0.9" height="14.15" fill="#089981"/><rect x="275.20" y="209.95" width="1.5" height="3.85" fill="#089981"/><rect x="277.15" y="206.25" width="0.9" height="15.88" fill="#089981"/><rect x="276.85" y="206.68" width="1.5" height="3.27" fill="#089981"/><rect x="278.80" y="206.93" width="0.9" height="11.65" fill="#F23645"/><rect x="278.50" y="206.93" width="1.5" height="7.79" fill="#F23645"/><rect x="280.45" y="208.80" width="0.9" height="14.14" fill="#F23645"/><rect x="280.15" y="214.72" width="1.5" height="4.69" fill="#F23645"/><rect x="282.10" y="210.52" width="0.9" height="11.53" fill="#F23645"/><rect x="281.80" y="219.41" width="1.5" height="1.55" fill="#F23645"/><rect x="283.75" y="208.78" width="0.9" height="13.78" fill="#089981"/><rect x="283.45" y="220.75" width="1.5" height="0.60" fill="#089981"/><rect x="285.40" y="205.86" width="0.9" height="14.25" fill="#089981"/><rect x="285.10" y="215.77" width="1.5" height="4.34" fill="#089981"/><rect x="287.05" y="201.08" width="0.9" height="14.94" fill="#089981"/><rect x="286.75" y="202.87" width="1.5" height="12.90" fill="#089981"/><rect x="288.70" y="197.71" width="0.9" height="10.04" fill="#F23645"/><rect x="288.40" y="202.87" width="1.5" height="0.60" fill="#F23645"/><rect x="290.35" y="200.78" width="0.9" height="11.77" fill="#F23645"/><rect x="290.05" y="202.90" width="1.5" height="9.37" fill="#F23645"/><rect x="292.00" y="193.48" width="0.9" height="17.26" fill="#089981"/><rect x="291.70" y="202.40" width="1.5" height="8.34" fill="#089981"/><rect x="293.65" y="188.94" width="0.9" height="17.06" fill="#089981"/><rect x="293.35" y="191.05" width="1.5" height="11.35" fill="#089981"/><rect x="295.30" y="186.66" width="0.9" height="13.05" fill="#F23645"/><rect x="295.00" y="191.05" width="1.5" height="0.94" fill="#F23645"/><rect x="296.95" y="178.75" width="0.9" height="17.66" fill="#F23645"/><rect x="296.65" y="191.99" width="1.5" height="2.69" fill="#F23645"/><rect x="298.60" y="181.49" width="0.9" height="13.65" fill="#089981"/><rect x="298.30" y="194.66" width="1.5" height="0.60" fill="#089981"/><rect x="300.25" y="188.90" width="0.9" height="11.64" fill="#F23645"/><rect x="299.95" y="194.66" width="1.5" height="5.46" fill="#F23645"/><rect x="301.90" y="187.41" width="0.9" height="14.63" fill="#089981"/><rect x="301.60" y="191.47" width="1.5" height="8.66" fill="#089981"/><rect x="303.55" y="189.06" width="0.9" height="16.40" fill="#F23645"/><rect x="303.25" y="191.47" width="1.5" height="12.59" fill="#F23645"/><rect x="305.20" y="195.71" width="0.9" height="8.91" fill="#089981"/><rect x="304.90" y="199.55" width="1.5" height="4.51" fill="#089981"/><rect x="306.85" y="192.84" width="0.9" height="11.33" fill="#089981"/><rect x="306.55" y="193.87" width="1.5" height="5.68" fill="#089981"/><rect x="308.50" y="190.38" width="0.9" height="14.39" fill="#F23645"/><rect x="308.20" y="193.87" width="1.5" height="10.76" fill="#F23645"/><rect x="310.15" y="191.05" width="0.9" height="12.59" fill="#089981"/><rect x="309.85" y="203.30" width="1.5" height="0.60" fill="#089981"/><rect x="311.80" y="192.39" width="0.9" height="7.57" fill="#089981"/><rect x="311.50" y="194.53" width="1.5" height="5.43" fill="#089981"/><rect x="313.45" y="190.19" width="0.9" height="8.21" fill="#F23645"/><rect x="313.15" y="194.53" width="1.5" height="3.63" fill="#F23645"/><rect x="315.10" y="187.66" width="0.9" height="9.49" fill="#089981"/><rect x="314.80" y="192.38" width="1.5" height="4.77" fill="#089981"/><rect x="316.75" y="185.61" width="0.9" height="9.99" fill="#F23645"/><rect x="316.45" y="192.38" width="1.5" height="2.83" fill="#F23645"/><rect x="318.40" y="184.62" width="0.9" height="8.89" fill="#089981"/><rect x="318.10" y="193.07" width="1.5" height="0.60" fill="#089981"/><rect x="320.05" y="175.67" width="0.9" height="15.73" fill="#089981"/><rect x="319.75" y="180.41" width="1.5" height="10.99" fill="#089981"/><rect x="321.70" y="169.82" width="0.9" height="18.22" fill="#089981"/><rect x="321.40" y="178.25" width="1.5" height="2.17" fill="#089981"/><rect x="323.35" y="166.78" width="0.9" height="17.08" fill="#089981"/><rect x="323.05" y="167.25" width="1.5" height="11.00" fill="#089981"/><rect x="325.00" y="162.23" width="0.9" height="9.40" fill="#089981"/><rect x="324.70" y="162.63" width="1.5" height="4.62" fill="#089981"/><rect x="326.65" y="152.53" width="0.9" height="16.37" fill="#089981"/><rect x="326.35" y="157.18" width="1.5" height="5.45" fill="#089981"/><rect x="328.30" y="142.11" width="0.9" height="16.35" fill="#089981"/><rect x="328.00" y="142.36" width="1.5" height="14.82" fill="#089981"/><rect x="329.95" y="133.56" width="0.9" height="14.47" fill="#089981"/><rect x="329.65" y="141.21" width="1.5" height="1.15" fill="#089981"/><rect x="331.60" y="114.32" width="0.9" height="27.13" fill="#089981"/><rect x="331.30" y="121.77" width="1.5" height="19.44" fill="#089981"/><rect x="333.25" y="93.30" width="0.9" height="30.19" fill="#089981"/><rect x="332.95" y="118.43" width="1.5" height="3.34" fill="#089981"/><rect x="334.90" y="101.15" width="0.9" height="19.14" fill="#089981"/><rect x="334.60" y="110.62" width="1.5" height="7.81" fill="#089981"/><rect x="336.55" y="105.82" width="0.9" height="16.26" fill="#F23645"/><rect x="336.25" y="110.62" width="1.5" height="3.56" fill="#F23645"/><rect x="338.20" y="110.83" width="0.9" height="20.55" fill="#F23645"/><rect x="337.90" y="114.19" width="1.5" height="14.03" fill="#F23645"/><rect x="339.85" y="120.72" width="0.9" height="13.08" fill="#F23645"/><rect x="339.55" y="128.22" width="1.5" height="5.40" fill="#F23645"/><rect x="341.50" y="117.24" width="0.9" height="16.52" fill="#089981"/><rect x="341.20" y="117.42" width="1.5" height="16.19" fill="#089981"/><rect x="343.15" y="117.22" width="0.9" height="10.33" fill="#F23645"/><rect x="342.85" y="117.42" width="1.5" height="3.73" fill="#F23645"/><rect x="344.80" y="118.13" width="0.9" height="15.34" fill="#F23645"/><rect x="344.50" y="121.15" width="1.5" height="5.16" fill="#F23645"/><rect x="346.45" y="121.10" width="0.9" height="10.04" fill="#089981"/><rect x="346.15" y="125.93" width="1.5" height="0.60" fill="#089981"/><rect x="348.10" y="120.53" width="0.9" height="8.82" fill="#089981"/><rect x="347.80" y="121.38" width="1.5" height="4.55" fill="#089981"/><rect x="349.75" y="120.24" width="0.9" height="9.37" fill="#F23645"/><rect x="349.45" y="121.38" width="1.5" height="6.59" fill="#F23645"/><rect x="351.40" y="122.85" width="0.9" height="8.67" fill="#F23645"/><rect x="351.10" y="127.97" width="1.5" height="0.60" fill="#F23645"/><rect x="353.05" y="124.49" width="0.9" height="6.52" fill="#F23645"/><rect x="352.75" y="128.44" width="1.5" height="0.97" fill="#F23645"/><rect x="354.70" y="122.70" width="0.9" height="8.95" fill="#089981"/><rect x="354.40" y="125.47" width="1.5" height="3.94" fill="#089981"/><rect x="356.35" y="116.99" width="0.9" height="12.34" fill="#F23645"/><rect x="356.05" y="125.47" width="1.5" height="3.76" fill="#F23645"/><rect x="358.00" y="114.73" width="0.9" height="10.54" fill="#089981"/><rect x="357.70" y="116.85" width="1.5" height="8.42" fill="#089981"/><rect x="359.65" y="110.85" width="0.9" height="13.13" fill="#F23645"/><rect x="359.35" y="116.85" width="1.5" height="6.30" fill="#F23645"/><rect x="361.30" y="111.11" width="0.9" height="15.72" fill="#089981"/><rect x="361.00" y="115.05" width="1.5" height="8.10" fill="#089981"/><rect x="362.95" y="110.41" width="0.9" height="14.77" fill="#F23645"/><rect x="362.65" y="115.05" width="1.5" height="8.39" fill="#F23645"/><rect x="364.60" y="109.49" width="0.9" height="14.33" fill="#089981"/><rect x="364.30" y="109.63" width="1.5" height="13.81" fill="#089981"/><rect x="366.25" y="106.51" width="0.9" height="11.91" fill="#089981"/><rect x="365.95" y="106.84" width="1.5" height="2.78" fill="#089981"/><rect x="367.90" y="95.00" width="0.9" height="20.04" fill="#089981"/><rect x="367.60" y="105.25" width="1.5" height="1.59" fill="#089981"/><rect x="369.55" y="96.85" width="0.9" height="15.50" fill="#089981"/><rect x="369.25" y="96.98" width="1.5" height="8.28" fill="#089981"/><rect x="371.20" y="98.47" width="0.9" height="13.91" fill="#F23645"/><rect x="370.90" y="98.47" width="1.5" height="6.56" fill="#F23645"/><rect x="372.85" y="103.35" width="0.9" height="7.35" fill="#F23645"/><rect x="372.55" y="105.04" width="1.5" height="0.60" fill="#F23645"/><rect x="374.50" y="103.46" width="0.9" height="13.81" fill="#F23645"/><rect x="374.20" y="105.25" width="1.5" height="0.64" fill="#F23645"/><rect x="376.15" y="104.99" width="0.9" height="12.96" fill="#F23645"/><rect x="375.85" y="105.88" width="1.5" height="6.34" fill="#F23645"/><rect x="377.80" y="107.90" width="0.9" height="8.36" fill="#F23645"/><rect x="377.50" y="112.22" width="1.5" height="1.27" fill="#F23645"/><rect x="379.45" y="108.09" width="0.9" height="8.69" fill="#089981"/><rect x="379.15" y="111.61" width="1.5" height="1.88" fill="#089981"/><rect x="381.10" y="107.09" width="0.9" height="10.56" fill="#F23645"/><rect x="380.80" y="111.61" width="1.5" height="0.98" fill="#F23645"/><rect x="382.75" y="112.92" width="0.9" height="8.53" fill="#F23645"/><rect x="382.45" y="112.92" width="1.5" height="7.63" fill="#F23645"/><rect x="384.40" y="111.92" width="0.9" height="9.75" fill="#089981"/><rect x="384.10" y="115.09" width="1.5" height="5.46" fill="#089981"/><rect x="386.05" y="113.13" width="0.9" height="11.73" fill="#F23645"/><rect x="385.75" y="115.09" width="1.5" height="3.00" fill="#F23645"/><rect x="387.70" y="119.43" width="0.9" height="38.57" fill="#F23645"/><rect x="387.40" y="119.43" width="1.5" height="13.85" fill="#F23645"/><rect x="389.35" y="135.06" width="0.9" height="9.80" fill="#F23645"/><rect x="389.05" y="135.06" width="1.5" height="2.45" fill="#F23645"/><rect x="391.00" y="151.46" width="0.9" height="15.49" fill="#F23645"/><rect x="390.70" y="151.46" width="1.5" height="0.61" fill="#F23645"/><rect x="392.65" y="154.52" width="0.9" height="18.82" fill="#F23645"/><rect x="392.35" y="154.52" width="1.5" height="4.97" fill="#F23645"/><rect x="394.30" y="153.98" width="0.9" height="31.02" fill="#089981"/><rect x="394.00" y="156.78" width="1.5" height="2.71" fill="#089981"/><rect x="395.95" y="148.07" width="0.9" height="21.98" fill="#F23645"/><rect x="395.65" y="156.78" width="1.5" height="9.46" fill="#F23645"/><rect x="397.60" y="152.75" width="0.9" height="15.12" fill="#089981"/><rect x="397.30" y="157.81" width="1.5" height="8.44" fill="#089981"/><rect x="399.25" y="152.00" width="0.9" height="10.29" fill="#089981"/><rect x="398.95" y="154.90" width="1.5" height="2.90" fill="#089981"/><rect x="400.90" y="158.06" width="0.9" height="16.03" fill="#F23645"/><rect x="400.60" y="158.06" width="1.5" height="15.78" fill="#F23645"/><rect x="402.55" y="163.43" width="0.9" height="13.27" fill="#089981"/><rect x="402.25" y="164.85" width="1.5" height="9.00" fill="#089981"/><rect x="404.20" y="162.21" width="0.9" height="19.24" fill="#089981"/><rect x="403.90" y="162.44" width="1.5" height="2.40" fill="#089981"/><rect x="405.85" y="162.30" width="0.9" height="14.16" fill="#F23645"/><rect x="405.55" y="162.44" width="1.5" height="7.32" fill="#F23645"/><rect x="407.50" y="162.48" width="0.9" height="16.65" fill="#F23645"/><rect x="407.20" y="169.76" width="1.5" height="2.21" fill="#F23645"/><rect x="409.15" y="162.26" width="0.9" height="13.29" fill="#089981"/><rect x="408.85" y="168.28" width="1.5" height="3.69" fill="#089981"/><rect x="410.80" y="160.23" width="0.9" height="14.67" fill="#089981"/><rect x="410.50" y="160.39" width="1.5" height="7.88" fill="#089981"/><rect x="412.45" y="157.63" width="0.9" height="9.30" fill="#F23645"/><rect x="412.15" y="160.39" width="1.5" height="1.08" fill="#F23645"/><rect x="414.10" y="156.54" width="0.9" height="8.15" fill="#089981"/><rect x="413.80" y="159.09" width="1.5" height="2.39" fill="#089981"/><rect x="415.75" y="156.54" width="0.9" height="6.28" fill="#F23645"/><rect x="415.45" y="159.09" width="1.5" height="0.60" fill="#F23645"/><rect x="417.40" y="153.67" width="0.9" height="7.31" fill="#089981"/><rect x="417.10" y="158.68" width="1.5" height="0.66" fill="#089981"/><rect x="419.05" y="155.39" width="0.9" height="6.30" fill="#F23645"/><rect x="418.75" y="158.68" width="1.5" height="1.03" fill="#F23645"/><rect x="420.70" y="153.09" width="0.9" height="7.65" fill="#089981"/><rect x="420.40" y="157.24" width="1.5" height="2.47" fill="#089981"/><rect x="422.35" y="154.30" width="0.9" height="6.42" fill="#F23645"/><rect x="422.05" y="157.24" width="1.5" height="2.79" fill="#F23645"/><rect x="424.00" y="155.34" width="0.9" height="4.75" fill="#089981"/><rect x="423.70" y="158.25" width="1.5" height="1.79" fill="#089981"/><rect x="425.65" y="153.19" width="0.9" height="6.16" fill="#089981"/><rect x="425.35" y="156.70" width="1.5" height="1.55" fill="#089981"/><rect x="427.30" y="150.90" width="0.9" height="6.46" fill="#089981"/><rect x="427.00" y="154.60" width="1.5" height="2.10" fill="#089981"/><rect x="428.95" y="148.01" width="0.9" height="8.28" fill="#089981"/><rect x="428.65" y="154.21" width="1.5" height="0.60" fill="#089981"/><rect x="430.60" y="145.10" width="0.9" height="11.74" fill="#089981"/><rect x="430.30" y="151.46" width="1.5" height="2.74" fill="#089981"/><rect x="432.25" y="141.79" width="0.9" height="14.24" fill="#089981"/><rect x="431.95" y="147.46" width="1.5" height="4.00" fill="#089981"/><rect x="433.90" y="143.39" width="0.9" height="13.58" fill="#F23645"/><rect x="433.60" y="147.46" width="1.5" height="5.03" fill="#F23645"/><rect x="435.55" y="151.06" width="0.9" height="12.44" fill="#F23645"/><rect x="435.25" y="152.49" width="1.5" height="2.69" fill="#F23645"/><rect x="437.20" y="153.23" width="0.9" height="14.63" fill="#F23645"/><rect x="436.90" y="155.18" width="1.5" height="9.77" fill="#F23645"/><rect x="438.85" y="161.62" width="0.9" height="8.62" fill="#F23645"/><rect x="438.55" y="164.95" width="1.5" height="2.27" fill="#F23645"/><rect x="440.50" y="158.19" width="0.9" height="13.48" fill="#089981"/><rect x="440.20" y="165.31" width="1.5" height="1.91" fill="#089981"/><rect x="442.15" y="159.51" width="0.9" height="10.18" fill="#089981"/><rect x="441.85" y="162.07" width="1.5" height="3.24" fill="#089981"/><rect x="443.80" y="159.00" width="0.9" height="10.80" fill="#F23645"/><rect x="443.50" y="162.07" width="1.5" height="5.38" fill="#F23645"/><rect x="445.45" y="160.61" width="0.9" height="12.81" fill="#F23645"/><rect x="445.15" y="167.45" width="1.5" height="2.79" fill="#F23645"/><rect x="447.10" y="160.78" width="0.9" height="12.11" fill="#089981"/><rect x="446.80" y="161.05" width="1.5" height="9.19" fill="#089981"/><rect x="448.75" y="161.01" width="0.9" height="6.73" fill="#F23645"/><rect x="448.45" y="161.05" width="1.5" height="2.61" fill="#F23645"/><rect x="450.40" y="162.47" width="0.9" height="12.59" fill="#F23645"/><rect x="450.10" y="163.66" width="1.5" height="7.79" fill="#F23645"/><rect x="452.05" y="167.01" width="0.9" height="7.62" fill="#089981"/><rect x="451.75" y="169.57" width="1.5" height="1.88" fill="#089981"/><rect x="453.70" y="164.85" width="0.9" height="11.09" fill="#F23645"/><rect x="453.40" y="169.57" width="1.5" height="1.38" fill="#F23645"/><rect x="455.35" y="165.94" width="0.9" height="9.81" fill="#F23645"/><rect x="455.05" y="170.96" width="1.5" height="4.67" fill="#F23645"/><rect x="457.00" y="161.24" width="0.9" height="14.64" fill="#089981"/><rect x="456.70" y="161.38" width="1.5" height="14.25" fill="#089981"/><rect x="458.65" y="161.20" width="0.9" height="21.50" fill="#F23645"/><rect x="458.35" y="161.38" width="1.5" height="3.10" fill="#F23645"/><rect x="460.30" y="161.09" width="0.9" height="12.57" fill="#089981"/><rect x="460.00" y="161.38" width="1.5" height="3.10" fill="#089981"/><rect x="461.95" y="160.82" width="0.9" height="7.62" fill="#F23645"/><rect x="461.65" y="161.38" width="1.5" height="3.62" fill="#F23645"/><rect x="463.60" y="160.33" width="0.9" height="8.25" fill="#089981"/><rect x="463.30" y="160.59" width="1.5" height="4.41" fill="#089981"/><rect x="465.25" y="160.28" width="0.9" height="4.73" fill="#089981"/><rect x="464.95" y="160.49" width="1.5" height="0.60" fill="#089981"/><rect x="466.90" y="161.55" width="0.9" height="6.55" fill="#F23645"/><rect x="466.60" y="161.55" width="1.5" height="2.09" fill="#F23645"/><rect x="468.55" y="163.07" width="0.9" height="11.17" fill="#F23645"/><rect x="468.25" y="163.64" width="1.5" height="9.47" fill="#F23645"/><rect x="470.20" y="167.71" width="0.9" height="9.79" fill="#F23645"/><rect x="469.90" y="173.11" width="1.5" height="4.06" fill="#F23645"/><rect x="471.85" y="168.17" width="0.9" height="12.00" fill="#089981"/><rect x="471.55" y="172.85" width="1.5" height="4.31" fill="#089981"/><rect x="473.50" y="174.55" width="0.9" height="7.78" fill="#F23645"/><rect x="473.20" y="174.55" width="1.5" height="5.39" fill="#F23645"/><rect x="475.15" y="177.83" width="0.9" height="13.07" fill="#089981"/><rect x="474.85" y="178.14" width="1.5" height="1.79" fill="#089981"/><rect x="476.80" y="177.29" width="0.9" height="12.37" fill="#F23645"/><rect x="476.50" y="178.14" width="1.5" height="5.83" fill="#F23645"/><rect x="478.45" y="177.82" width="0.9" height="14.14" fill="#F23645"/><rect x="478.15" y="183.97" width="1.5" height="4.05" fill="#F23645"/><rect x="480.10" y="180.34" width="0.9" height="10.27" fill="#F23645"/><rect x="479.80" y="188.02" width="1.5" height="0.62" fill="#F23645"/><rect x="481.75" y="184.32" width="0.9" height="6.94" fill="#F23645"/><rect x="481.45" y="188.64" width="1.5" height="1.14" fill="#F23645"/><rect x="483.40" y="180.11" width="0.9" height="10.12" fill="#089981"/><rect x="483.10" y="183.50" width="1.5" height="6.28" fill="#089981"/><rect x="485.05" y="180.14" width="0.9" height="7.46" fill="#089981"/><rect x="484.75" y="180.26" width="1.5" height="3.23" fill="#089981"/><rect x="486.70" y="185.65" width="0.9" height="9.21" fill="#F23645"/><rect x="486.40" y="185.65" width="1.5" height="0.73" fill="#F23645"/><rect x="488.35" y="192.80" width="0.9" height="11.71" fill="#F23645"/><rect x="488.05" y="192.80" width="1.5" height="6.00" fill="#F23645"/><rect x="490.00" y="196.00" width="0.9" height="22.50" fill="#F23645"/><rect x="489.70" y="198.80" width="1.5" height="15.81" fill="#F23645"/><rect x="491.65" y="203.29" width="0.9" height="10.43" fill="#089981"/><rect x="491.35" y="207.46" width="1.5" height="6.26" fill="#089981"/><rect x="493.30" y="196.30" width="0.9" height="12.32" fill="#089981"/><rect x="493.00" y="199.82" width="1.5" height="7.64" fill="#089981"/><rect x="494.95" y="195.22" width="0.9" height="8.46" fill="#F23645"/><rect x="494.65" y="199.82" width="1.5" height="0.60" fill="#F23645"/><rect x="496.60" y="190.66" width="0.9" height="9.93" fill="#089981"/><rect x="496.30" y="196.67" width="1.5" height="3.20" fill="#089981"/><rect x="498.25" y="189.60" width="0.9" height="7.78" fill="#089981"/><rect x="497.95" y="195.96" width="1.5" height="0.72" fill="#089981"/><rect x="499.90" y="187.78" width="0.9" height="6.66" fill="#089981"/><rect x="499.60" y="194.14" width="1.5" height="0.60" fill="#089981"/><rect x="501.55" y="181.62" width="0.9" height="10.18" fill="#089981"/><rect x="501.25" y="185.16" width="1.5" height="6.64" fill="#089981"/><rect x="503.20" y="176.42" width="0.9" height="11.63" fill="#F23645"/><rect x="502.90" y="185.16" width="1.5" height="2.17" fill="#F23645"/><rect x="504.85" y="173.21" width="0.9" height="10.61" fill="#089981"/><rect x="504.55" y="177.94" width="1.5" height="5.88" fill="#089981"/><rect x="506.50" y="175.28" width="0.9" height="5.34" fill="#089981"/><rect x="506.20" y="177.32" width="1.5" height="0.62" fill="#089981"/><rect x="508.15" y="169.26" width="0.9" height="10.69" fill="#089981"/><rect x="507.85" y="169.43" width="1.5" height="7.89" fill="#089981"/><rect x="509.80" y="169.42" width="0.9" height="9.45" fill="#F23645"/><rect x="509.50" y="169.43" width="1.5" height="7.73" fill="#F23645"/><rect x="511.45" y="171.59" width="0.9" height="11.30" fill="#F23645"/><rect x="511.15" y="177.16" width="1.5" height="5.42" fill="#F23645"/><rect x="513.10" y="178.90" width="0.9" height="6.07" fill="#089981"/><rect x="512.80" y="182.06" width="1.5" height="0.60" fill="#089981"/><rect x="514.75" y="178.35" width="0.9" height="7.10" fill="#089981"/><rect x="514.45" y="179.67" width="1.5" height="2.39" fill="#089981"/><rect x="516.40" y="179.25" width="0.9" height="11.80" fill="#F23645"/><rect x="516.10" y="179.67" width="1.5" height="8.38" fill="#F23645"/><rect x="518.05" y="181.95" width="0.9" height="11.53" fill="#F23645"/><rect x="517.75" y="188.05" width="1.5" height="4.49" fill="#F23645"/><rect x="519.70" y="188.24" width="0.9" height="6.66" fill="#F23645"/><rect x="519.40" y="192.53" width="1.5" height="1.99" fill="#F23645"/><rect x="521.35" y="186.36" width="0.9" height="7.98" fill="#089981"/><rect x="521.05" y="194.04" width="1.5" height="0.60" fill="#089981"/><rect x="523.00" y="182.22" width="0.9" height="10.96" fill="#089981"/><rect x="522.70" y="185.50" width="1.5" height="7.68" fill="#089981"/><rect x="524.65" y="181.73" width="0.9" height="10.34" fill="#F23645"/><rect x="524.35" y="185.50" width="1.5" height="5.90" fill="#F23645"/><rect x="526.30" y="180.98" width="0.9" height="11.17" fill="#089981"/><rect x="526.00" y="184.60" width="1.5" height="6.80" fill="#089981"/><rect x="527.95" y="180.75" width="0.9" height="6.66" fill="#089981"/><rect x="527.65" y="180.98" width="1.5" height="3.62" fill="#089981"/><rect x="529.60" y="181.22" width="0.9" height="6.76" fill="#F23645"/><rect x="529.30" y="181.22" width="1.5" height="5.59" fill="#F23645"/><rect x="531.25" y="181.83" width="0.9" height="4.88" fill="#089981"/><rect x="530.95" y="182.30" width="1.5" height="4.40" fill="#089981"/><rect x="532.90" y="179.27" width="0.9" height="6.01" fill="#089981"/><rect x="532.60" y="181.25" width="1.5" height="1.05" fill="#089981"/><rect x="534.55" y="176.15" width="0.9" height="6.96" fill="#F23645"/><rect x="534.25" y="181.25" width="1.5" height="1.64" fill="#F23645"/><rect x="536.20" y="171.74" width="0.9" height="9.61" fill="#089981"/><rect x="535.90" y="178.95" width="1.5" height="2.40" fill="#089981"/><rect x="537.85" y="168.58" width="0.9" height="10.78" fill="#089981"/><rect x="537.55" y="170.46" width="1.5" height="8.49" fill="#089981"/><rect x="539.50" y="137.32" width="0.9" height="28.11" fill="#089981"/><rect x="539.20" y="139.54" width="1.5" height="25.90" fill="#089981"/><rect x="541.15" y="131.40" width="0.9" height="13.60" fill="#089981"/><rect x="540.85" y="131.90" width="1.5" height="7.63" fill="#089981"/><rect x="542.80" y="132.34" width="0.9" height="14.74" fill="#F23645"/><rect x="542.50" y="132.34" width="1.5" height="9.52" fill="#F23645"/><rect x="544.45" y="134.04" width="0.9" height="15.74" fill="#089981"/><rect x="544.15" y="137.87" width="1.5" height="3.99" fill="#089981"/><rect x="546.10" y="135.77" width="0.9" height="11.22" fill="#F23645"/><rect x="545.80" y="137.87" width="1.5" height="4.64" fill="#F23645"/><rect x="547.75" y="139.35" width="0.9" height="10.84" fill="#089981"/><rect x="547.45" y="141.54" width="1.5" height="0.97" fill="#089981"/><rect x="549.40" y="139.75" width="0.9" height="9.79" fill="#F23645"/><rect x="549.10" y="141.54" width="1.5" height="2.42" fill="#F23645"/><rect x="551.05" y="137.41" width="0.9" height="7.63" fill="#089981"/><rect x="550.75" y="140.51" width="1.5" height="3.45" fill="#089981"/><rect x="552.70" y="138.15" width="0.9" height="7.49" fill="#F23645"/><rect x="552.40" y="140.51" width="1.5" height="1.05" fill="#F23645"/><rect x="554.35" y="140.07" width="0.9" height="5.32" fill="#F23645"/><rect x="554.05" y="141.56" width="1.5" height="0.75" fill="#F23645"/><rect x="556.00" y="140.47" width="0.9" height="5.54" fill="#F23645"/><rect x="555.70" y="142.30" width="1.5" height="1.84" fill="#F23645"/><rect x="557.65" y="141.58" width="0.9" height="8.64" fill="#F23645"/><rect x="557.35" y="144.14" width="1.5" height="5.86" fill="#F23645"/><rect x="559.30" y="141.85" width="0.9" height="9.73" fill="#089981"/><rect x="559.00" y="141.96" width="1.5" height="8.04" fill="#089981"/><rect x="560.95" y="142.37" width="0.9" height="4.62" fill="#F23645"/><rect x="560.65" y="142.37" width="1.5" height="0.60" fill="#F23645"/><rect x="562.60" y="143.12" width="0.9" height="10.96" fill="#F23645"/><rect x="562.30" y="143.12" width="1.5" height="4.30" fill="#F23645"/><rect x="564.25" y="147.28" width="0.9" height="8.48" fill="#F23645"/><rect x="563.95" y="147.42" width="1.5" height="7.43" fill="#F23645"/><rect x="565.90" y="151.59" width="0.9" height="7.00" fill="#F23645"/><rect x="565.60" y="154.85" width="1.5" height="2.63" fill="#F23645"/><rect x="567.55" y="153.88" width="0.9" height="6.68" fill="#F23645"/><rect x="567.25" y="157.48" width="1.5" height="0.60" fill="#F23645"/><rect x="569.20" y="152.81" width="0.9" height="6.47" fill="#089981"/><rect x="568.90" y="154.47" width="1.5" height="3.40" fill="#089981"/><rect x="570.85" y="148.58" width="0.9" height="7.79" fill="#089981"/><rect x="570.55" y="149.01" width="1.5" height="5.46" fill="#089981"/><rect x="572.50" y="137.80" width="0.9" height="15.79" fill="#089981"/><rect x="572.20" y="145.55" width="1.5" height="3.46" fill="#089981"/><rect x="574.15" y="146.22" width="0.9" height="7.35" fill="#F23645"/><rect x="573.85" y="146.22" width="1.5" height="0.91" fill="#F23645"/><rect x="575.80" y="149.75" width="0.9" height="5.49" fill="#F23645"/><rect x="575.50" y="149.75" width="1.5" height="0.60" fill="#F23645"/><rect x="577.45" y="152.06" width="0.9" height="6.52" fill="#F23645"/><rect x="577.15" y="152.06" width="1.5" height="0.89" fill="#F23645"/><rect x="579.10" y="154.37" width="0.9" height="9.10" fill="#F23645"/><rect x="578.80" y="154.37" width="1.5" height="0.91" fill="#F23645"/><rect x="580.75" y="156.41" width="0.9" height="9.20" fill="#F23645"/><rect x="580.45" y="156.41" width="1.5" height="9.06" fill="#F23645"/><rect x="582.40" y="159.23" width="0.9" height="7.34" fill="#F23645"/><rect x="582.10" y="165.47" width="1.5" height="0.99" fill="#F23645"/><rect x="584.05" y="157.45" width="0.9" height="6.84" fill="#089981"/><rect x="583.75" y="164.00" width="1.5" height="0.60" fill="#089981"/><rect x="585.70" y="147.66" width="0.9" height="12.60" fill="#089981"/><rect x="585.40" y="154.31" width="1.5" height="5.95" fill="#089981"/><rect x="587.35" y="143.40" width="0.9" height="12.03" fill="#089981"/><rect x="587.05" y="150.17" width="1.5" height="4.15" fill="#089981"/><rect x="589.00" y="142.81" width="0.9" height="11.03" fill="#089981"/><rect x="588.70" y="146.55" width="1.5" height="3.62" fill="#089981"/><rect x="590.65" y="140.95" width="0.9" height="7.22" fill="#089981"/><rect x="590.35" y="141.11" width="1.5" height="5.44" fill="#089981"/><rect x="592.30" y="140.00" width="0.9" height="5.55" fill="#089981"/><rect x="592.00" y="140.18" width="1.5" height="0.93" fill="#089981"/><rect x="593.95" y="138.47" width="0.9" height="11.91" fill="#089981"/><rect x="593.65" y="138.86" width="1.5" height="1.32" fill="#089981"/><rect x="595.60" y="137.57" width="0.9" height="6.50" fill="#089981"/><rect x="595.30" y="137.95" width="1.5" height="0.91" fill="#089981"/><rect x="597.25" y="135.20" width="0.9" height="11.80" fill="#F23645"/><rect x="596.95" y="137.95" width="1.5" height="2.12" fill="#F23645"/><rect x="598.90" y="138.84" width="0.9" height="6.86" fill="#F23645"/><rect x="598.60" y="140.07" width="1.5" height="1.15" fill="#F23645"/><rect x="600.55" y="138.32" width="0.9" height="7.70" fill="#F23645"/><rect x="600.25" y="141.22" width="1.5" height="2.32" fill="#F23645"/><rect x="602.20" y="139.81" width="0.9" height="10.26" fill="#F23645"/><rect x="601.90" y="143.54" width="1.5" height="6.34" fill="#F23645"/><rect x="603.85" y="147.15" width="0.9" height="10.52" fill="#F23645"/><rect x="603.55" y="149.88" width="1.5" height="7.65" fill="#F23645"/><rect x="605.50" y="150.40" width="0.9" height="31.60" fill="#F23645"/><rect x="605.20" y="157.53" width="1.5" height="11.36" fill="#F23645"/><rect x="607.15" y="162.99" width="0.9" height="14.94" fill="#F23645"/><rect x="606.85" y="168.89" width="1.5" height="8.80" fill="#F23645"/><rect x="608.80" y="167.37" width="0.9" height="10.87" fill="#089981"/><rect x="608.50" y="168.05" width="1.5" height="9.63" fill="#089981"/><rect x="610.45" y="165.03" width="0.9" height="9.63" fill="#089981"/><rect x="610.15" y="165.78" width="1.5" height="2.28" fill="#089981"/><rect x="612.10" y="164.45" width="0.9" height="12.22" fill="#F23645"/><rect x="611.80" y="165.78" width="1.5" height="1.68" fill="#F23645"/><rect x="613.75" y="166.51" width="0.9" height="9.65" fill="#F23645"/><rect x="613.45" y="167.45" width="1.5" height="2.78" fill="#F23645"/><rect x="615.40" y="166.67" width="0.9" height="12.03" fill="#F23645"/><rect x="615.10" y="170.24" width="1.5" height="8.29" fill="#F23645"/><rect x="617.05" y="173.91" width="0.9" height="4.13" fill="#089981"/><rect x="616.75" y="177.69" width="1.5" height="0.60" fill="#089981"/><rect x="618.70" y="163.77" width="0.9" height="12.00" fill="#089981"/><rect x="618.40" y="174.53" width="1.5" height="1.24" fill="#089981"/><rect x="620.35" y="165.39" width="0.9" height="7.94" fill="#089981"/><rect x="620.05" y="171.20" width="1.5" height="2.12" fill="#089981"/><rect x="622.00" y="163.04" width="0.9" height="7.66" fill="#089981"/><rect x="621.70" y="170.48" width="1.5" height="0.60" fill="#089981"/><rect x="623.65" y="164.71" width="0.9" height="4.79" fill="#089981"/><rect x="623.35" y="166.04" width="1.5" height="3.46" fill="#089981"/><rect x="625.30" y="162.36" width="0.9" height="6.88" fill="#F23645"/><rect x="625.00" y="166.04" width="1.5" height="2.02" fill="#F23645"/><rect x="626.95" y="162.78" width="0.9" height="6.65" fill="#F23645"/><rect x="626.65" y="168.06" width="1.5" height="1.25" fill="#F23645"/><rect x="628.60" y="162.65" width="0.9" height="6.78" fill="#089981"/><rect x="628.30" y="167.15" width="1.5" height="2.16" fill="#089981"/><rect x="630.25" y="164.38" width="0.9" height="3.57" fill="#089981"/><rect x="629.95" y="166.61" width="1.5" height="0.60" fill="#089981"/><rect x="631.90" y="164.19" width="0.9" height="5.92" fill="#F23645"/><rect x="631.60" y="166.61" width="1.5" height="1.47" fill="#F23645"/><rect x="633.55" y="163.10" width="0.9" height="6.54" fill="#089981"/><rect x="633.25" y="165.41" width="1.5" height="2.67" fill="#089981"/><rect x="635.20" y="162.99" width="0.9" height="6.50" fill="#089981"/><rect x="634.90" y="163.15" width="1.5" height="2.26" fill="#089981"/><rect x="636.85" y="163.70" width="0.9" height="7.26" fill="#F23645"/><rect x="636.55" y="163.70" width="1.5" height="3.68" fill="#F23645"/><rect x="638.50" y="164.60" width="0.9" height="4.92" fill="#089981"/><rect x="638.20" y="164.87" width="1.5" height="2.51" fill="#089981"/><rect x="640.15" y="168.46" width="0.9" height="5.71" fill="#F23645"/><rect x="639.85" y="168.46" width="1.5" height="3.23" fill="#F23645"/><rect x="641.80" y="169.50" width="0.9" height="16.50" fill="#F23645"/><rect x="641.50" y="174.81" width="1.5" height="4.53" fill="#F23645"/></g>
<line x1="6" y1="184.3" x2="746" y2="184.3" stroke="#F23645" stroke-opacity="0.55" stroke-width="0.9" stroke-dasharray="1 1.75"/>
<polyline points="6.9,454.5 14.5,457.2 20.0,461.7 23.6,468.0 27.2,460.0 32.7,451.7 36.3,453.6 41.8,454.5 47.2,459.0 54.5,461.7 60.0,462.6 64.5,449.0 67.2,451.7 72.6,453.6 76.3,444.5 79.9,449.0 84.4,439.0 89.0,449.0 93.5,452.7 96.2,460.0 101.7,465.4 112.6,469.0 119.8,472.6 121.6,460.0 127.3,459.0 134.5,462.6 138.2,466.3 145.4,469.0 154.5,468.0 158.1,466.3 165.4,474.4 174.5,463.5 181.7,467.2 189.0,472.6 191.7,467.2 198.0,463.5 210.8,465.4 221.7,468.0 229.0,469.0 233.5,473.5 238.0,469.0 249.0,475.3 258.2,479.9 271.8,483.5 273.6,480.8 279.0,480.8 280.8,473.5 290.8,477.2 294.5,474.4 298.0,476.3 303.5,470.0 312.6,473.5 323.5,476.3 334.4,479.9 339.9,474.4 349.0,473.5 352.6,472.6 361.6,470.0 365.0,474.4 370.9,474.4 374.5,468.0 381.8,471.7 386.3,466.3 389.0,449.0 394.5,441.8 396.3,445.4 400.0,450.8 403.6,448.0 409.0,450.8 418.0,456.3 429.0,461.7 434.4,465.4 436.3,460.0 443.5,458.0 450.8,459.0 458.0,460.0 465.3,463.5 472.6,450.0 478.0,453.6 484.5,454.5 489.0,444.5 494.5,452.7 501.8,461.7 507.2,466.3 512.7,468.0 516.3,461.7 523.6,465.4 532.7,469.0 539.9,473.5 545.4,467.2 552.6,469.9 558.0,462.6 561.7,460.8 570.8,462.6 578.0,462.6 585.0,463.4 588.9,467.2 591.4,463.4 600.3,470.4 604.8,449.4 611.8,454.5 615.0,449.4 623.2,457.0 630.8,459.6 634.6,462.1 638.4,459.6 639.7,448.1 642.3,448.8" fill="none" stroke="#FF6D00" stroke-opacity="0.88" stroke-width="0.9" stroke-linejoin="round"/><polyline points="6.9,471.7 14.5,468.0 18.2,469.0 21.8,458.0 25.4,441.8 29.0,453.6 34.5,461.7 40.0,465.4 47.2,469.0 54.5,468.0 63.5,470.0 72.6,469.0 76.3,474.4 83.5,479.0 89.0,474.4 92.6,472.6 96.2,458.0 99.0,457.0 105.3,459.0 112.6,456.3 119.8,461.7 127.0,465.4 130.9,467.2 136.3,457.2 143.6,456.3 154.5,459.0 161.8,459.0 163.6,438.0 167.2,447.2 174.5,458.0 180.0,460.0 183.5,449.0 186.3,450.8 190.0,444.5 194.4,453.6 203.5,461.7 210.8,462.6 216.2,464.5 219.9,452.7 227.0,458.0 230.7,448.0 234.4,456.3 239.8,452.7 245.4,454.5 249.0,445.4 254.5,449.0 260.0,450.0 263.6,439.0 267.2,442.7 270.0,418.2 274.5,443.6 278.0,445.4 281.8,452.7 290.8,448.0 293.6,452.7 298.0,448.0 307.2,460.0 316.3,463.5 323.5,454.5 329.0,445.4 334.4,438.0 339.9,452.7 349.0,457.2 356.2,459.0 361.6,455.4 365.3,460.0 368.2,454.5 374.5,460.8 380.0,460.8 387.2,466.3 396.3,472.6 403.6,471.7 409.0,473.5 416.3,468.0 427.2,465.4 432.6,460.0 436.3,462.6 443.5,467.2 454.4,471.7 461.7,473.5 467.1,470.0 474.4,474.4 477.1,468.0 481.6,470.8 485.3,469.0 490.0,474.4 494.5,470.0 500.0,465.4 507.2,457.2 514.5,460.0 520.0,465.4 525.4,468.0 529.0,464.5 534.5,462.6 538.0,454.5 540.0,444.5 543.5,447.2 547.2,458.0 552.6,458.0 559.9,464.5 567.0,468.0 572.6,461.7 580.0,465.3 582.5,467.8 586.4,457.0 591.4,459.6 594.0,455.1 597.8,456.4 600.3,452.6 604.1,458.3 605.4,464.6 611.8,462.1 618.1,468.5 624.5,464.0 630.8,463.4 635.9,466.5 641.0,470.4" fill="none" stroke="#2962FF" stroke-opacity="0.88" stroke-width="0.9" stroke-linejoin="round"/><polyline points="6.9,454.0 10.9,454.0 18.2,458.0 21.8,460.0 27.2,458.0 32.7,461.7 36.3,462.6 43.6,460.8 54.5,461.7 60.0,462.6 69.0,458.0 76.3,450.8 83.5,438.0 87.1,436.3 92.6,435.0 96.2,438.0 105.3,449.0 112.6,452.7 119.8,452.7 127.3,458.0 134.5,462.6 141.8,461.7 152.7,460.8 161.8,459.0 169.0,452.7 172.6,452.7 180.0,459.0 192.6,451.7 196.3,452.7 207.0,462.6 218.0,469.0 229.0,463.5 238.0,456.3 247.3,447.2 254.5,438.0 263.6,427.2 270.9,414.5 278.0,409.0 287.2,415.4 294.5,417.2 301.7,420.0 309.0,427.2 316.3,433.6 323.5,432.7 330.8,425.4 336.2,421.4 345.3,422.7 356.2,430.0 365.4,434.5 372.7,436.3 381.8,443.6 388.1,449.0 393.6,444.5 400.0,441.8 410.0,439.0 416.3,443.6 425.4,450.8 434.4,459.0 441.7,462.6 447.1,463.5 454.4,460.8 461.7,458.0 467.1,458.0 474.4,450.0 483.5,449.0 487.3,446.3 492.7,443.6 498.2,447.2 503.6,453.6 509.0,457.2 516.3,460.0 525.4,464.5 534.5,469.0 539.9,463.5 547.2,458.0 554.4,459.0 561.7,463.5 570.8,466.3 581.7,470.0 589.0,471.0 598.0,468.0 605.4,464.6 611.8,463.4 619.4,461.5 627.0,463.4 633.4,466.0 638.4,467.8 641.0,464.6" fill="none" stroke="#F50057" stroke-opacity="0.88" stroke-width="0.9" stroke-linejoin="round"/>
<circle cx="640.9" cy="390.6" r="6.2" fill="#fff" stroke="#9a3bb0" stroke-width="1"/><path d="M643.2,386.0 L638.6,391.3 L641.0,391.3 L639.4,395.1 L643.8,389.7 L641.4,389.7 Z" fill="#9C27B0" stroke="#9C27B0" stroke-width="0.4"/><g><circle cx="685" cy="390.5" r="6.2" fill="#fff" stroke="#e8404e" stroke-width="1"/><clipPath id="c6850"><circle cx="685" cy="390.5" r="5.1"/></clipPath><g clip-path="url(#c6850)"><rect x="679.5" y="386.10" width="11" height="1.25" fill="#F23645"/><rect x="679.5" y="388.50" width="11" height="1.25" fill="#F23645"/><rect x="679.5" y="390.90" width="11" height="1.25" fill="#F23645"/><rect x="679.5" y="393.30" width="11" height="1.25" fill="#F23645"/><rect x="679.5" y="385.0" width="7.2" height="6.6" fill="#2962FF"/><circle cx="681.10" cy="387.10" r="0.45" fill="#fff"/><circle cx="681.10" cy="388.90" r="0.45" fill="#fff"/><circle cx="681.10" cy="390.70" r="0.45" fill="#fff"/><circle cx="683.00" cy="387.10" r="0.45" fill="#fff"/><circle cx="683.00" cy="388.90" r="0.45" fill="#fff"/><circle cx="683.00" cy="390.70" r="0.45" fill="#fff"/><circle cx="684.90" cy="387.10" r="0.45" fill="#fff"/><circle cx="684.90" cy="388.90" r="0.45" fill="#fff"/><circle cx="684.90" cy="390.70" r="0.45" fill="#fff"/></g></g><g><circle cx="674.5" cy="390.5" r="6.2" fill="#fff" stroke="#e8404e" stroke-width="1"/><clipPath id="c6745"><circle cx="674.5" cy="390.5" r="5.1"/></clipPath><g clip-path="url(#c6745)"><rect x="669.0" y="386.10" width="11" height="1.25" fill="#F23645"/><rect x="669.0" y="388.50" width="11" height="1.25" fill="#F23645"/><rect x="669.0" y="390.90" width="11" height="1.25" fill="#F23645"/><rect x="669.0" y="393.30" width="11" height="1.25" fill="#F23645"/><rect x="669.0" y="385.0" width="7.2" height="6.6" fill="#2962FF"/><circle cx="670.60" cy="387.10" r="0.45" fill="#fff"/><circle cx="670.60" cy="388.90" r="0.45" fill="#fff"/><circle cx="670.60" cy="390.70" r="0.45" fill="#fff"/><circle cx="672.50" cy="387.10" r="0.45" fill="#fff"/><circle cx="672.50" cy="388.90" r="0.45" fill="#fff"/><circle cx="672.50" cy="390.70" r="0.45" fill="#fff"/><circle cx="674.40" cy="387.10" r="0.45" fill="#fff"/><circle cx="674.40" cy="388.90" r="0.45" fill="#fff"/><circle cx="674.40" cy="390.70" r="0.45" fill="#fff"/></g></g><g><circle cx="665.5" cy="390.5" r="6.2" fill="#fff" stroke="#e8404e" stroke-width="1"/><clipPath id="c6655"><circle cx="665.5" cy="390.5" r="5.1"/></clipPath><g clip-path="url(#c6655)"><rect x="660.0" y="386.10" width="11" height="1.25" fill="#F23645"/><rect x="660.0" y="388.50" width="11" height="1.25" fill="#F23645"/><rect x="660.0" y="390.90" width="11" height="1.25" fill="#F23645"/><rect x="660.0" y="393.30" width="11" height="1.25" fill="#F23645"/><rect x="660.0" y="385.0" width="7.2" height="6.6" fill="#2962FF"/><circle cx="661.60" cy="387.10" r="0.45" fill="#fff"/><circle cx="661.60" cy="388.90" r="0.45" fill="#fff"/><circle cx="661.60" cy="390.70" r="0.45" fill="#fff"/><circle cx="663.50" cy="387.10" r="0.45" fill="#fff"/><circle cx="663.50" cy="388.90" r="0.45" fill="#fff"/><circle cx="663.50" cy="390.70" r="0.45" fill="#fff"/><circle cx="665.40" cy="387.10" r="0.45" fill="#fff"/><circle cx="665.40" cy="388.90" r="0.45" fill="#fff"/><circle cx="665.40" cy="390.70" r="0.45" fill="#fff"/></g></g><g><circle cx="654.2" cy="390.5" r="6.2" fill="#fff" stroke="#e8404e" stroke-width="1"/><clipPath id="c6542"><circle cx="654.2" cy="390.5" r="5.1"/></clipPath><g clip-path="url(#c6542)"><rect x="648.7" y="386.10" width="11" height="1.25" fill="#F23645"/><rect x="648.7" y="388.50" width="11" height="1.25" fill="#F23645"/><rect x="648.7" y="390.90" width="11" height="1.25" fill="#F23645"/><rect x="648.7" y="393.30" width="11" height="1.25" fill="#F23645"/><rect x="648.7" y="385.0" width="7.2" height="6.6" fill="#2962FF"/><circle cx="650.30" cy="387.10" r="0.45" fill="#fff"/><circle cx="650.30" cy="388.90" r="0.45" fill="#fff"/><circle cx="650.30" cy="390.70" r="0.45" fill="#fff"/><circle cx="652.20" cy="387.10" r="0.45" fill="#fff"/><circle cx="652.20" cy="388.90" r="0.45" fill="#fff"/><circle cx="652.20" cy="390.70" r="0.45" fill="#fff"/><circle cx="654.10" cy="387.10" r="0.45" fill="#fff"/><circle cx="654.10" cy="388.90" r="0.45" fill="#fff"/><circle cx="654.10" cy="390.70" r="0.45" fill="#fff"/></g></g>
<rect x="746" y="15" width="36" height="6" fill="#fff"/><g font-size="8.7" fill="#30333b"><text x="751.6" y="25.1" stroke="#131722" stroke-width="0.0">4.2000</text><text x="751.6" y="51.9" stroke="#131722" stroke-width="0.0">4.0000</text><text x="751.6" y="78.7" stroke="#131722" stroke-width="0.0">3.8000</text><text x="751.6" y="105.4" stroke="#131722" stroke-width="0.0">3.6000</text><text x="751.6" y="132.2" stroke="#131722" stroke-width="0.0">3.4000</text><text x="751.6" y="212.6" stroke="#131722" stroke-width="0.0">2.8000</text><text x="751.6" y="239.3" stroke="#131722" stroke-width="0.0">2.6000</text><text x="751.6" y="266.1" stroke="#131722" stroke-width="0.0">2.4000</text><text x="751.6" y="292.9" stroke="#131722" stroke-width="0.0">2.2000</text><text x="751.6" y="319.7" stroke="#131722" stroke-width="0.0">2.0000</text><text x="751.6" y="346.5" stroke="#131722" stroke-width="0.0">1.8000</text><text x="751.6" y="373.2" stroke="#131722" stroke-width="0.0">1.6000</text><text x="751.6" y="400.0" stroke="#131722" stroke-width="0.0">1.4000</text><text x="751.6" y="420.9" stroke="#131722" stroke-width="0.0">60.0000</text><text x="751.6" y="444.1" stroke="#131722" stroke-width="0.0">40.0000</text><text x="751.6" y="489.5" stroke="#131722" stroke-width="0.0">0.0000</text><text x="39.2" y="505" text-anchor="middle" stroke="#131722" stroke-width="0.0">18</text><text x="78.5" y="505" text-anchor="middle" stroke="#131722" stroke-width="0.0">22</text><text x="117.3" y="505" text-anchor="middle" stroke="#131722" stroke-width="0.0">26</text><text x="167" y="505" text-anchor="middle" font-weight="700" stroke="#131722" stroke-width="0.0">Jul</text><text x="206" y="505" text-anchor="middle" stroke="#131722" stroke-width="0.0">5</text><text x="245.5" y="505" text-anchor="middle" stroke="#131722" stroke-width="0.0">9</text><text x="285" y="505" text-anchor="middle" stroke="#131722" stroke-width="0.0">13</text><text x="324.5" y="505" text-anchor="middle" stroke="#131722" stroke-width="0.0">17</text><text x="364" y="505" text-anchor="middle" stroke="#131722" stroke-width="0.0">21</text><text x="403.5" y="505" text-anchor="middle" stroke="#131722" stroke-width="0.0">25</text><text x="473" y="505" text-anchor="middle" font-weight="700" stroke="#131722" stroke-width="0.0">Aug</text><text x="512" y="505" text-anchor="middle" stroke="#131722" stroke-width="0.0">5</text><text x="551.5" y="505" text-anchor="middle" stroke="#131722" stroke-width="0.0">9</text><text x="591" y="505" text-anchor="middle" stroke="#131722" stroke-width="0.0">13</text><text x="630" y="505" text-anchor="middle" stroke="#131722" stroke-width="0.0">17</text><text x="669.5" y="505" text-anchor="middle" stroke="#131722" stroke-width="0.0">21</text><text x="708.5" y="505" text-anchor="middle" stroke="#131722" stroke-width="0.0">25</text></g>
<g font-size="8.7"><rect x="746" y="150" width="36" height="11.2" fill="#F23645"/><text x="751.8" y="158.7" fill="#fff" stroke="#fff" stroke-width="0.0">3.1495</text><rect x="746" y="161.6" width="36" height="11" fill="#4CAF50"/><text x="751.8" y="170.2" fill="#fff" stroke="#fff" stroke-width="0.0">3.1142</text><rect x="746" y="178.9" width="43.5" height="20" fill="#F23645"/><text x="751.6" y="187.2" fill="#fff" stroke="#fff" stroke-width="0.0">2.9868</text><text x="751.4" y="195.7" fill="#fff" stroke="#fff" stroke-width="0.0">01:57:54</text><rect x="746" y="444.2" width="41" height="10.8" fill="#FF6D00"/><text x="751.8" y="452.8" fill="#fff" stroke="#fff" stroke-width="0.0">31.9898</text><rect x="746" y="459" width="41" height="10.7" fill="#F50057"/><text x="751.8" y="467.5" fill="#fff" stroke="#fff" stroke-width="0.0">19.1612</text><rect x="746" y="470.8" width="41" height="10.6" fill="#2962FF"/><text x="751.8" y="479.3" fill="#fff" stroke="#fff" stroke-width="0.0">13.5771</text></g>
<rect x="8" y="18.2" width="356" height="16.3" fill="#fff"/><rect x="8" y="34.5" width="118" height="13.5" fill="#fff"/><rect x="8" y="399.2" width="154" height="17.2" fill="#fff"/><text x="6.9" y="13.7" font-size="8.5" fill="#131722" textLength="275.8" lengthAdjust="spacingAndGlyphs" stroke="#131722" stroke-width="0.0">ChartAnalysis_4 created with TradingView.com, Aug 18, 2025 06:02 UTC</text><text x="12.5" y="31.7" font-size="8" fill="#131722" textLength="126.5" lengthAdjust="spacingAndGlyphs" stroke="#131722" stroke-width="0.0">XRP / U.S. Dollar · 4h · COINBASE</text><text x="144.4" y="31.7" font-size="8" fill="#131722" stroke="#131722" stroke-width="0.0">O</text><text x="150.6" y="31.7" font-size="8" fill="#F23645" textLength="25.9" lengthAdjust="spacingAndGlyphs" stroke="#F23645" stroke-width="0.0">2.9920</text><text x="182.3" y="31.7" font-size="8" fill="#131722" stroke="#131722" stroke-width="0.0">H</text><text x="187.1" y="31.7" font-size="8" fill="#F23645" textLength="26.7" lengthAdjust="spacingAndGlyphs" stroke="#F23645" stroke-width="0.0">3.0076</text><text x="218.9" y="31.7" font-size="8" fill="#131722" stroke="#131722" stroke-width="0.0">L</text><text x="223.4" y="31.7" font-size="8" fill="#F23645" textLength="25.8" lengthAdjust="spacingAndGlyphs" stroke="#F23645" stroke-width="0.0">2.9750</text><text x="254.3" y="31.7" font-size="8" fill="#131722" stroke="#131722" stroke-width="0.0">C</text><text x="260.6" y="31.7" font-size="8" fill="#F23645" textLength="26.2" lengthAdjust="spacingAndGlyphs" stroke="#F23645" stroke-width="0.0">2.9868</text><text x="292.5" y="31.7" font-size="8" fill="#F23645" textLength="31.2" lengthAdjust="spacingAndGlyphs" stroke="#F23645" stroke-width="0.0">−0.0053</text><text x="327" y="31.7" font-size="8" fill="#F23645" textLength="33.5" lengthAdjust="spacingAndGlyphs" stroke="#F23645" stroke-width="0.0">(−0.18%)</text><text x="12.5" y="42.7" font-size="8" fill="#131722" textLength="67.5" lengthAdjust="spacingAndGlyphs" stroke="#131722" stroke-width="0.0">Supertrend (10, 3)</text><text x="86" y="42.7" font-size="8" fill="#131722" stroke="#131722" stroke-width="0.0">⌀</text><text x="96.9" y="42.7" font-size="8" fill="#F23645" textLength="25" lengthAdjust="spacingAndGlyphs" stroke="#F23645" stroke-width="0.0">3.1495</text><text x="12.6" y="413.0" font-size="8" fill="#131722" textLength="44.8" lengthAdjust="spacingAndGlyphs" stroke="#131722" stroke-width="0.0">DMI (14, 14)</text><text x="63" y="413.0" font-size="8" fill="#F50057" textLength="27" lengthAdjust="spacingAndGlyphs" stroke="#F50057" stroke-width="0.0">19.1612</text><text x="95.4" y="413.0" font-size="8" fill="#2962FF" textLength="28" lengthAdjust="spacingAndGlyphs" stroke="#2962FF" stroke-width="0.0">13.5771</text><text x="129" y="413.0" font-size="8" fill="#FF6D00" textLength="30.4" lengthAdjust="spacingAndGlyphs" stroke="#FF6D00" stroke-width="0.0">31.9898</text>
<g fill="#131722"><path d="M8.2,526 H15.8 V535.5 H12 V529.8 H8.2 Z"/><circle cx="19.5" cy="527.7" r="1.65"/><path d="M24,526 H27.9 L23.9,535.5 H20 Z"/></g><text x="33.3" y="535.5" font-size="13" font-weight="400" fill="#131722" stroke="#131722" stroke-width="0.55" textLength="80.2" lengthAdjust="spacingAndGlyphs">TradingView</text>
</svg>
</body></html>
